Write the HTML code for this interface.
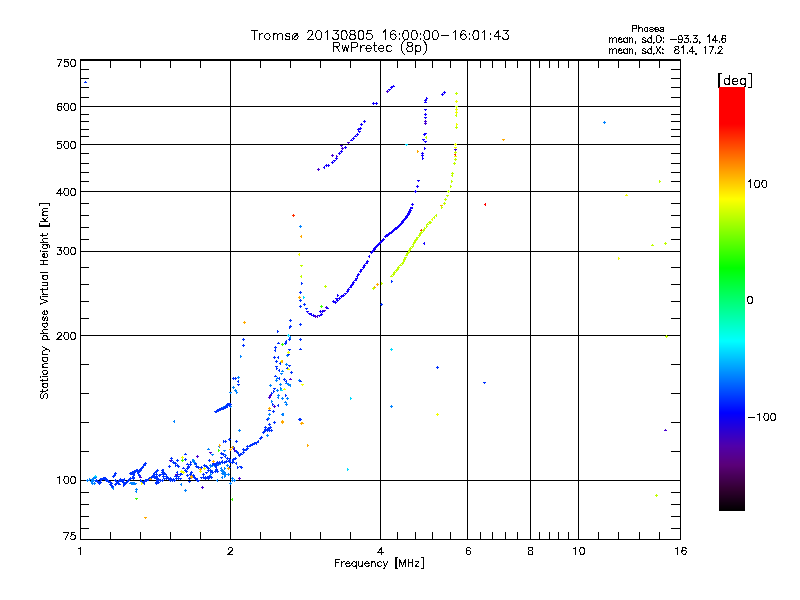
<!DOCTYPE html>
<html><head><meta charset="utf-8"><style>html,body{margin:0;padding:0;background:#fff;overflow:hidden}svg{display:block}</style></head>
<body><svg width="800" height="600" viewBox="0 0 800 600">
<rect width="800" height="600" fill="#fff"/>
<path d="M80 59.5H681 M80 60.5H681 M80 539.5H681 M80.5 59V540 M680.5 59V540 M80 480.5H681 M80 335.5H681 M80 251.5H681 M80 191.5H681 M80 144.5H681 M80 106.5H681 M230.5 59V540 M380.5 59V540 M467.5 59V540 M530.5 59V540 M578.5 59V540 M81 528.5H89 M671 528.5H680 M81 516.5H89 M671 516.5H680 M81 504.5H89 M671 504.5H680 M81 492.5H89 M671 492.5H680 M81 451.5H89 M671 451.5H680 M81 422.5H89 M671 422.5H680 M81 393.5H89 M671 393.5H680 M81 364.5H89 M671 364.5H680 M81 318.5H89 M671 318.5H680 M81 301.5H89 M671 301.5H680 M81 284.5H89 M671 284.5H680 M81 267.5H89 M671 267.5H680 M81 239.5H89 M671 239.5H680 M81 227.5H89 M671 227.5H680 M81 215.5H89 M671 215.5H680 M81 203.5H89 M671 203.5H680 M81 181.5H89 M671 181.5H680 M81 172.5H89 M671 172.5H680 M81 163.5H89 M671 163.5H680 M81 153.5H89 M671 153.5H680 M81 136.5H89 M671 136.5H680 M81 129.5H89 M671 129.5H680 M81 121.5H89 M671 121.5H680 M81 114.5H89 M671 114.5H680 M81 97.5H89 M671 97.5H680 M81 87.5H89 M671 87.5H680 M81 78.5H89 M671 78.5H680 M81 69.5H89 M671 69.5H680 M110.5 532V539 M110.5 61V68 M140.5 532V539 M140.5 61V68 M170.5 532V539 M170.5 61V68 M200.5 532V539 M200.5 61V68 M260.5 532V539 M260.5 61V68 M290.5 532V539 M290.5 61V68 M320.5 532V539 M320.5 61V68 M350.5 532V539 M350.5 61V68 M397.5 532V539 M397.5 61V68 M415.5 532V539 M415.5 61V68 M432.5 532V539 M432.5 61V68 M450.5 532V539 M450.5 61V68 M480.5 532V539 M480.5 61V68 M492.5 532V539 M492.5 61V68 M505.5 532V539 M505.5 61V68 M517.5 532V539 M517.5 61V68 M539.5 532V539 M539.5 61V68 M549.5 532V539 M549.5 61V68 M558.5 532V539 M558.5 61V68 M568.5 532V539 M568.5 61V68 M598.5 532V539 M598.5 61V68 M618.5 532V539 M618.5 61V68 M639.5 532V539 M639.5 61V68 M659.5 532V539 M659.5 61V68" stroke="#000" stroke-width="1" fill="none" shape-rendering="crispEdges"/>
<g shape-rendering="crispEdges"><path fill="#0082ff" d="M86 480h3v1h-3zM87 479h1v3h-1zM89 479h2v1h-2zM89 478h1v3h-1zM90 479h3v1h-3zM91 479h1v2h-1zM92 478h3v1h-3zM93 477h1v3h-1zM94 477h3v1h-3zM95 476h1v3h-1zM90 481h3v1h-3zM91 480h1v3h-1zM92 480h3v1h-3zM93 479h1v3h-1zM91 483h3v1h-3zM92 482h1v3h-1zM93 483h3v1h-3zM94 482h1v3h-1zM111 487h3v1h-3zM112 486h1v3h-1zM112 488h2v1h-2zM113 487h1v3h-1zM129 483h3v1h-3zM130 482h1v2h-1zM130 483h3v1h-3zM131 482h1v3h-1zM131 483h3v1h-3zM132 482h1v3h-1zM133 483h2v1h-2zM133 482h1v3h-1zM133 483h3v1h-3zM134 482h1v3h-1zM134 483h3v1h-3zM135 483h1v2h-1zM135 489h3v1h-3zM136 488h1v2h-1zM135 491h2v1h-2zM136 490h1v3h-1zM173 421h2v1h-2zM174 420h1v3h-1zM238 430h3v1h-3zM239 429h1v3h-1zM218 446h2v1h-2zM219 445h1v3h-1zM207 449h3v1h-3zM208 448h1v2h-1zM211 454h3v1h-3zM212 454h1v2h-1zM223 450h3v1h-3zM224 450h1v2h-1zM192 460h3v1h-3zM193 459h1v3h-1zM209 465h2v1h-2zM210 464h1v3h-1zM225 455h2v1h-2zM225 454h1v3h-1zM226 465h3v1h-3zM227 464h1v3h-1zM224 468h2v1h-2zM224 467h1v3h-1zM220 470h3v1h-3zM221 469h1v3h-1zM221 473h3v1h-3zM222 472h1v3h-1zM224 476h2v1h-2zM224 475h1v3h-1zM221 477h2v1h-2zM222 476h1v3h-1zM210 474h2v1h-2zM210 473h1v3h-1zM216 480h2v1h-2zM217 479h1v3h-1zM231 478h3v1h-3zM232 477h1v3h-1zM180 484h2v1h-2zM181 483h1v3h-1zM184 490h3v1h-3zM185 489h1v3h-1zM211 471h2v1h-2zM212 470h1v3h-1zM221 477h2v1h-2zM222 476h1v3h-1zM223 472h3v1h-3zM224 471h1v3h-1zM227 474h3v1h-3zM228 473h1v3h-1zM229 483h3v1h-3zM230 482h1v3h-1zM231 480h3v1h-3zM232 479h1v3h-1zM233 480h3v1h-3zM234 479h1v3h-1zM192 460h2v1h-2zM192 459h1v3h-1zM193 462h3v1h-3zM194 461h1v3h-1zM194 464h3v1h-3zM195 463h1v2h-1zM220 468h2v1h-2zM221 467h1v3h-1zM222 470h2v1h-2zM222 469h1v3h-1zM223 472h3v1h-3zM224 471h1v3h-1zM224 474h3v1h-3zM225 473h1v3h-1zM237 377h3v1h-3zM238 376h1v3h-1zM232 387h3v1h-3zM233 386h1v3h-1zM234 390h2v1h-2zM235 389h1v3h-1zM236 392h2v1h-2zM236 391h1v3h-1zM229 392h3v1h-3zM230 392h1v2h-1zM235 391h2v1h-2zM236 390h1v3h-1zM214 411h3v1h-3zM215 411h1v2h-1zM216 410h3v1h-3zM217 409h1v3h-1zM218 409h3v1h-3zM219 408h1v3h-1zM220 408h3v1h-3zM221 407h1v3h-1zM222 407h3v1h-3zM223 406h1v3h-1zM224 406h3v1h-3zM225 405h1v2h-1zM227 405h2v1h-2zM227 404h1v3h-1zM228 405h3v1h-3zM229 404h1v3h-1zM230 406h2v1h-2zM230 405h1v3h-1zM210 466h2v1h-2zM210 465h1v3h-1zM211 465h3v1h-3zM212 464h1v3h-1zM213 465h3v1h-3zM214 464h1v3h-1zM215 464h3v1h-3zM216 463h1v3h-1zM217 464h3v1h-3zM218 463h1v3h-1zM219 463h2v1h-2zM220 462h1v3h-1zM220 470h3v1h-3zM221 469h1v3h-1zM222 472h3v1h-3zM223 471h1v3h-1zM223 474h3v1h-3zM224 474h1v2h-1zM240 356h2v1h-2zM240 355h1v3h-1zM240 454h3v1h-3zM241 453h1v2h-1zM266 435h3v1h-3zM267 434h1v3h-1zM285 364h3v1h-3zM286 363h1v3h-1zM281 371h3v1h-3zM282 370h1v2h-1zM280 373h3v1h-3zM281 373h1v2h-1zM276 378h3v1h-3zM277 377h1v2h-1zM275 380h3v1h-3zM276 379h1v3h-1zM285 383h3v1h-3zM286 382h1v2h-1zM287 384h3v1h-3zM288 383h1v3h-1zM289 385h2v1h-2zM290 384h1v3h-1zM279 384h3v1h-3zM280 383h1v3h-1zM280 388h2v1h-2zM280 387h1v3h-1zM269 385h3v1h-3zM270 384h1v3h-1zM276 390h3v1h-3zM277 389h1v3h-1zM277 395h3v1h-3zM278 394h1v3h-1zM277 397h2v1h-2zM278 396h1v3h-1zM281 398h3v1h-3zM282 397h1v3h-1zM286 398h3v1h-3zM287 397h1v3h-1zM271 401h2v1h-2zM271 400h1v3h-1zM284 402h3v1h-3zM285 401h1v2h-1zM285 404h3v1h-3zM286 403h1v3h-1zM268 414h3v1h-3zM269 413h1v3h-1zM267 418h3v1h-3zM268 417h1v3h-1zM281 414h3v1h-3zM282 413h1v3h-1zM298 380h3v1h-3zM299 379h1v3h-1zM282 414h2v1h-2zM283 413h1v3h-1zM289 337h2v1h-2zM290 336h1v3h-1zM286 355h3v1h-3zM287 355h1v2h-1zM299 226h3v1h-3zM300 225h1v3h-1zM603 122h3v1h-3zM604 121h1v3h-1zM390 406h3v1h-3zM391 405h1v3h-1z"/><path fill="#00dcff" d="M94 476h3v1h-3zM95 475h1v2h-1zM280 390h3v1h-3zM281 389h1v2h-1zM287 335h3v1h-3zM288 334h1v3h-1zM303 297h2v1h-2zM303 296h1v3h-1zM405 144h3v1h-3zM406 144h1v2h-1zM390 349h3v1h-3zM391 348h1v3h-1zM350 398h2v1h-2zM350 397h1v3h-1zM347 469h2v1h-2zM347 468h1v3h-1z"/><path fill="#0032ff" d="M95 481h3v1h-3zM96 480h1v2h-1zM96 481h3v1h-3zM97 480h1v3h-1zM98 482h2v1h-2zM98 481h1v3h-1zM98 482h3v1h-3zM99 481h1v3h-1zM99 482h3v1h-3zM100 481h1v3h-1zM95 480h3v1h-3zM96 479h1v3h-1zM96 481h3v1h-3zM97 480h1v3h-1zM98 482h2v1h-2zM98 481h1v3h-1zM98 483h3v1h-3zM99 482h1v3h-1zM99 479h2v1h-2zM100 478h1v3h-1zM100 479h3v1h-3zM101 478h1v3h-1zM101 479h3v1h-3zM102 478h1v2h-1zM102 478h3v1h-3zM103 477h1v3h-1zM103 478h3v1h-3zM104 477h1v3h-1zM104 478h3v1h-3zM105 477h1v2h-1zM105 479h2v1h-2zM105 478h1v3h-1zM105 480h3v1h-3zM106 479h1v3h-1zM106 480h3v1h-3zM107 479h1v2h-1zM107 481h3v1h-3zM108 480h1v3h-1zM108 482h3v1h-3zM109 481h1v2h-1zM109 482h3v1h-3zM110 481h1v3h-1zM110 483h3v1h-3zM111 483h1v2h-1zM109 484h3v1h-3zM110 483h1v3h-1zM110 485h3v1h-3zM111 484h1v3h-1zM111 486h3v1h-3zM112 485h1v3h-1zM112 476h3v1h-3zM113 475h1v3h-1zM113 475h3v1h-3zM114 474h1v2h-1zM114 474h2v1h-2zM114 473h1v3h-1zM114 473h3v1h-3zM115 472h1v3h-1zM114 480h3v1h-3zM115 479h1v2h-1zM115 481h3v1h-3zM116 480h1v3h-1zM116 482h3v1h-3zM117 481h1v2h-1zM117 483h3v1h-3zM118 482h1v3h-1zM118 484h3v1h-3zM119 483h1v2h-1zM114 484h3v1h-3zM115 483h1v3h-1zM115 483h3v1h-3zM116 482h1v3h-1zM116 482h3v1h-3zM117 481h1v2h-1zM117 481h3v1h-3zM118 480h1v3h-1zM118 480h3v1h-3zM119 479h1v3h-1zM119 481h3v1h-3zM120 480h1v2h-1zM120 480h2v1h-2zM121 479h1v3h-1zM121 480h3v1h-3zM122 479h1v3h-1zM122 480h3v1h-3zM123 479h1v2h-1zM123 479h2v1h-2zM124 478h1v3h-1zM119 479h3v1h-3zM120 478h1v3h-1zM120 480h2v1h-2zM121 479h1v3h-1zM121 481h2v1h-2zM122 480h1v3h-1zM122 482h3v1h-3zM123 481h1v3h-1zM123 485h2v1h-2zM123 484h1v3h-1zM123 484h3v1h-3zM124 483h1v3h-1zM125 483h2v1h-2zM125 482h1v3h-1zM125 482h3v1h-3zM126 481h1v3h-1zM127 481h2v1h-2zM127 480h1v3h-1zM127 480h3v1h-3zM128 479h1v3h-1zM129 479h2v1h-2zM129 478h1v3h-1zM129 478h3v1h-3zM130 477h1v3h-1zM129 473h2v1h-2zM130 472h1v3h-1zM130 473h3v1h-3zM131 472h1v3h-1zM132 472h2v1h-2zM132 471h1v3h-1zM132 472h3v1h-3zM133 471h1v3h-1zM133 471h3v1h-3zM134 470h1v2h-1zM134 471h3v1h-3zM135 470h1v3h-1zM135 470h3v1h-3zM136 469h1v3h-1zM136 470h3v1h-3zM137 469h1v2h-1zM132 472h3v1h-3zM133 471h1v3h-1zM132 473h3v1h-3zM133 473h1v2h-1zM132 474h3v1h-3zM133 473h1v2h-1zM133 475h2v1h-2zM133 474h1v3h-1zM132 476h2v1h-2zM133 475h1v3h-1zM132 477h3v1h-3zM133 476h1v3h-1zM132 478h3v1h-3zM133 477h1v3h-1zM137 471h2v1h-2zM137 470h1v3h-1zM137 472h3v1h-3zM138 471h1v3h-1zM137 473h2v1h-2zM138 472h1v3h-1zM138 474h2v1h-2zM138 473h1v3h-1zM138 475h3v1h-3zM139 474h1v3h-1zM138 471h3v1h-3zM139 471h1v2h-1zM139 470h3v1h-3zM140 470h1v2h-1zM139 469h3v1h-3zM140 468h1v2h-1zM140 468h2v1h-2zM141 467h1v3h-1zM141 467h3v1h-3zM142 466h1v3h-1zM142 466h2v1h-2zM143 465h1v3h-1zM143 465h3v1h-3zM144 464h1v2h-1zM143 464h3v1h-3zM144 463h1v3h-1zM145 463h2v1h-2zM145 462h1v3h-1zM140 480h2v1h-2zM140 479h1v3h-1zM140 481h3v1h-3zM141 481h1v2h-1zM141 482h3v1h-3zM142 481h1v3h-1zM142 482h2v1h-2zM143 481h1v3h-1zM143 483h2v1h-2zM144 482h1v3h-1zM141 482h3v1h-3zM142 481h1v3h-1zM142 482h2v1h-2zM143 481h1v3h-1zM143 481h3v1h-3zM144 480h1v2h-1zM144 480h2v1h-2zM145 479h1v3h-1zM145 480h3v1h-3zM146 479h1v3h-1zM146 480h3v1h-3zM147 479h1v2h-1zM147 479h2v1h-2zM148 478h1v3h-1zM148 478h3v1h-3zM149 477h1v3h-1zM150 478h2v1h-2zM150 477h1v3h-1zM150 477h3v1h-3zM151 476h1v3h-1zM152 476h2v1h-2zM152 475h1v3h-1zM152 475h3v1h-3zM153 474h1v3h-1zM154 474h2v1h-2zM154 473h1v3h-1zM153 473h2v1h-2zM154 472h1v3h-1zM154 472h3v1h-3zM155 471h1v2h-1zM155 471h2v1h-2zM156 470h1v3h-1zM156 470h3v1h-3zM157 469h1v3h-1zM155 483h3v1h-3zM156 482h1v3h-1zM155 482h3v1h-3zM156 481h1v3h-1zM156 481h3v1h-3zM157 481h1v2h-1zM157 480h3v1h-3zM158 480h1v2h-1zM157 479h3v1h-3zM158 478h1v2h-1zM158 475h3v1h-3zM159 475h1v2h-1zM84 82h3v1h-3zM85 81h1v2h-1zM223 441h2v1h-2zM223 440h1v3h-1zM224 441h3v1h-3zM225 440h1v3h-1zM228 439h3v1h-3zM229 438h1v3h-1zM235 441h3v1h-3zM236 440h1v3h-1zM233 447h2v1h-2zM233 446h1v3h-1zM236 452h2v1h-2zM237 451h1v3h-1zM238 455h3v1h-3zM239 454h1v3h-1zM184 454h3v1h-3zM185 453h1v2h-1zM184 459h3v1h-3zM185 458h1v3h-1zM170 458h3v1h-3zM171 457h1v3h-1zM172 462h3v1h-3zM173 461h1v3h-1zM176 460h3v1h-3zM177 459h1v3h-1zM175 465h2v1h-2zM175 464h1v3h-1zM178 466h2v1h-2zM178 465h1v3h-1zM168 466h3v1h-3zM169 465h1v3h-1zM194 463h3v1h-3zM195 463h1v2h-1zM195 466h3v1h-3zM196 465h1v3h-1zM197 467h3v1h-3zM198 466h1v3h-1zM200 467h3v1h-3zM201 466h1v3h-1zM203 465h3v1h-3zM204 464h1v3h-1zM208 460h3v1h-3zM209 459h1v3h-1zM212 463h3v1h-3zM213 462h1v3h-1zM206 467h3v1h-3zM207 467h1v2h-1zM207 470h3v1h-3zM208 469h1v3h-1zM210 472h3v1h-3zM211 471h1v2h-1zM215 465h2v1h-2zM215 464h1v3h-1zM214 471h3v1h-3zM215 470h1v3h-1zM216 462h3v1h-3zM217 461h1v2h-1zM218 462h2v1h-2zM219 461h1v3h-1zM221 461h2v1h-2zM222 460h1v3h-1zM220 457h3v1h-3zM221 457h1v2h-1zM226 458h3v1h-3zM227 457h1v3h-1zM228 461h3v1h-3zM229 460h1v3h-1zM229 467h2v1h-2zM229 466h1v3h-1zM234 458h3v1h-3zM235 457h1v3h-1zM232 462h3v1h-3zM233 461h1v2h-1zM235 463h2v1h-2zM236 462h1v3h-1zM182 468h3v1h-3zM183 467h1v2h-1zM186 464h3v1h-3zM187 463h1v2h-1zM190 462h2v1h-2zM190 461h1v3h-1zM187 467h3v1h-3zM188 466h1v3h-1zM184 470h3v1h-3zM185 469h1v2h-1zM180 474h3v1h-3zM181 473h1v2h-1zM186 475h3v1h-3zM187 474h1v3h-1zM190 472h3v1h-3zM191 471h1v3h-1zM192 475h3v1h-3zM193 474h1v3h-1zM194 478h2v1h-2zM195 477h1v3h-1zM162 470h2v1h-2zM163 469h1v3h-1zM164 474h3v1h-3zM165 473h1v2h-1zM166 477h3v1h-3zM167 476h1v3h-1zM169 478h3v1h-3zM170 477h1v3h-1zM172 480h2v1h-2zM172 479h1v3h-1zM175 478h3v1h-3zM176 477h1v3h-1zM177 476h3v1h-3zM178 476h1v2h-1zM179 478h3v1h-3zM180 478h1v2h-1zM159 474h3v1h-3zM160 474h1v2h-1zM200 477h3v1h-3zM201 477h1v2h-1zM202 474h3v1h-3zM203 473h1v3h-1zM204 478h3v1h-3zM205 477h1v3h-1zM208 476h3v1h-3zM209 475h1v3h-1zM212 472h2v1h-2zM212 471h1v3h-1zM161 480h3v1h-3zM162 479h1v3h-1zM163 473h3v1h-3zM164 472h1v3h-1zM165 476h3v1h-3zM166 475h1v3h-1zM167 478h3v1h-3zM168 477h1v3h-1zM169 480h3v1h-3zM170 479h1v3h-1zM172 479h3v1h-3zM173 478h1v3h-1zM174 476h3v1h-3zM175 475h1v2h-1zM176 472h2v1h-2zM177 471h1v3h-1zM177 478h3v1h-3zM178 477h1v3h-1zM179 474h3v1h-3zM180 473h1v3h-1zM185 471h3v1h-3zM186 470h1v3h-1zM188 478h3v1h-3zM189 477h1v3h-1zM188 481h3v1h-3zM189 481h1v2h-1zM192 475h3v1h-3zM193 474h1v3h-1zM196 480h3v1h-3zM197 479h1v3h-1zM207 478h3v1h-3zM208 477h1v3h-1zM205 472h3v1h-3zM206 472h1v2h-1zM217 471h2v1h-2zM217 470h1v3h-1zM152 476h2v1h-2zM152 475h1v3h-1zM153 477h3v1h-3zM154 476h1v3h-1zM155 478h3v1h-3zM156 478h1v2h-1zM157 479h3v1h-3zM158 478h1v2h-1zM159 480h3v1h-3zM160 479h1v3h-1zM154 472h3v1h-3zM155 471h1v2h-1zM155 474h3v1h-3zM156 473h1v3h-1zM155 476h3v1h-3zM156 475h1v3h-1zM156 478h3v1h-3zM157 477h1v3h-1zM156 480h3v1h-3zM157 479h1v3h-1zM157 482h3v1h-3zM158 481h1v3h-1zM161 470h3v1h-3zM162 469h1v3h-1zM161 472h3v1h-3zM162 471h1v3h-1zM162 474h3v1h-3zM163 473h1v3h-1zM162 476h3v1h-3zM163 475h1v3h-1zM163 478h3v1h-3zM164 478h1v2h-1zM166 478h2v1h-2zM166 477h1v3h-1zM167 478h3v1h-3zM168 477h1v3h-1zM169 479h3v1h-3zM170 478h1v3h-1zM172 480h2v1h-2zM172 479h1v3h-1zM173 480h3v1h-3zM174 480h1v2h-1zM170 460h3v1h-3zM171 459h1v3h-1zM172 462h3v1h-3zM173 461h1v3h-1zM174 463h3v1h-3zM175 462h1v3h-1zM176 465h3v1h-3zM177 464h1v3h-1zM176 474h3v1h-3zM177 473h1v3h-1zM177 476h3v1h-3zM178 476h1v2h-1zM182 472h3v1h-3zM183 471h1v3h-1zM184 470h3v1h-3zM185 469h1v2h-1zM186 468h3v1h-3zM187 467h1v3h-1zM187 466h3v1h-3zM188 465h1v3h-1zM189 464h3v1h-3zM190 464h1v2h-1zM189 474h3v1h-3zM190 473h1v3h-1zM192 476h2v1h-2zM192 475h1v3h-1zM193 477h3v1h-3zM194 476h1v3h-1zM195 478h3v1h-3zM196 478h1v2h-1zM197 480h3v1h-3zM198 480h1v2h-1zM203 477h2v1h-2zM203 476h1v3h-1zM204 477h3v1h-3zM205 476h1v3h-1zM206 477h3v1h-3zM207 476h1v3h-1zM208 477h3v1h-3zM209 477h1v2h-1zM211 477h2v1h-2zM211 476h1v3h-1zM205 466h3v1h-3zM206 465h1v3h-1zM208 468h2v1h-2zM208 467h1v3h-1zM209 470h3v1h-3zM210 469h1v3h-1zM215 465h3v1h-3zM216 464h1v2h-1zM215 467h2v1h-2zM216 466h1v3h-1zM215 469h3v1h-3zM216 468h1v3h-1zM237 467h2v1h-2zM237 466h1v3h-1zM239 466h3v1h-3zM240 466h1v2h-1zM232 378h3v1h-3zM233 377h1v3h-1zM234 378h3v1h-3zM235 377h1v3h-1zM237 381h2v1h-2zM238 380h1v3h-1zM237 384h3v1h-3zM238 384h1v2h-1zM214 411h3v1h-3zM215 411h1v2h-1zM215 411h2v1h-2zM216 410h1v3h-1zM216 410h3v1h-3zM217 409h1v3h-1zM218 410h2v1h-2zM218 409h1v3h-1zM218 409h3v1h-3zM219 408h1v3h-1zM219 409h3v1h-3zM220 408h1v3h-1zM220 408h3v1h-3zM221 407h1v3h-1zM221 408h3v1h-3zM222 408h1v2h-1zM222 408h3v1h-3zM223 407h1v3h-1zM223 407h3v1h-3zM224 406h1v3h-1zM225 407h2v1h-2zM225 406h1v3h-1zM225 406h3v1h-3zM226 405h1v3h-1zM226 406h2v1h-2zM227 405h1v3h-1zM227 405h3v1h-3zM228 404h1v2h-1zM228 405h3v1h-3zM229 404h1v3h-1zM226 404h3v1h-3zM227 403h1v3h-1zM227 404h3v1h-3zM228 403h1v3h-1zM228 404h2v1h-2zM229 403h1v3h-1zM229 404h3v1h-3zM230 403h1v3h-1zM235 451h3v1h-3zM236 450h1v3h-1zM237 453h2v1h-2zM238 452h1v3h-1zM239 454h3v1h-3zM240 453h1v3h-1zM220 453h3v1h-3zM221 452h1v3h-1zM222 454h3v1h-3zM223 453h1v3h-1zM224 456h2v1h-2zM225 455h1v3h-1zM226 458h3v1h-3zM227 457h1v3h-1zM229 459h2v1h-2zM229 458h1v3h-1zM232 459h3v1h-3zM233 458h1v3h-1zM231 462h3v1h-3zM232 461h1v3h-1zM212 464h2v1h-2zM212 463h1v3h-1zM213 464h3v1h-3zM214 464h1v2h-1zM215 463h3v1h-3zM216 462h1v3h-1zM217 463h3v1h-3zM218 462h1v3h-1zM219 462h3v1h-3zM220 462h1v2h-1zM222 462h2v1h-2zM222 461h1v3h-1zM223 462h3v1h-3zM224 461h1v3h-1zM225 461h3v1h-3zM226 460h1v3h-1zM227 461h3v1h-3zM228 460h1v2h-1zM229 461h2v1h-2zM230 460h1v3h-1zM232 460h2v1h-2zM232 459h1v3h-1zM240 454h3v1h-3zM241 453h1v2h-1zM242 452h3v1h-3zM243 451h1v3h-1zM244 450h3v1h-3zM245 449h1v2h-1zM246 448h3v1h-3zM247 447h1v3h-1zM248 446h3v1h-3zM249 445h1v2h-1zM249 445h3v1h-3zM250 444h1v3h-1zM251 444h3v1h-3zM252 443h1v3h-1zM253 443h3v1h-3zM254 442h1v3h-1zM255 442h3v1h-3zM256 442h1v2h-1zM257 441h2v1h-2zM258 440h1v3h-1zM242 449h3v1h-3zM243 448h1v3h-1zM242 339h3v1h-3zM243 338h1v3h-1zM242 345h3v1h-3zM243 344h1v3h-1zM240 467h3v1h-3zM241 466h1v3h-1zM242 452h3v1h-3zM243 451h1v3h-1zM244 449h3v1h-3zM245 449h1v2h-1zM246 446h3v1h-3zM247 445h1v3h-1zM249 445h3v1h-3zM250 444h1v3h-1zM251 444h3v1h-3zM252 443h1v3h-1zM253 443h3v1h-3zM254 442h1v3h-1zM255 443h2v1h-2zM256 442h1v3h-1zM257 441h2v1h-2zM258 440h1v3h-1zM259 438h3v1h-3zM260 438h1v2h-1zM260 437h3v1h-3zM261 436h1v3h-1zM262 432h3v1h-3zM263 431h1v3h-1zM263 431h3v1h-3zM264 430h1v3h-1zM264 429h3v1h-3zM265 429h1v2h-1zM266 430h2v1h-2zM267 429h1v3h-1zM268 430h3v1h-3zM269 429h1v3h-1zM267 428h3v1h-3zM268 427h1v3h-1zM264 427h3v1h-3zM265 426h1v3h-1zM268 424h3v1h-3zM269 423h1v3h-1zM269 427h3v1h-3zM270 426h1v3h-1zM270 430h3v1h-3zM271 429h1v3h-1zM273 422h3v1h-3zM274 421h1v3h-1zM275 361h3v1h-3zM276 360h1v3h-1zM279 363h2v1h-2zM280 362h1v3h-1zM288 365h3v1h-3zM289 365h1v2h-1zM286 368h3v1h-3zM287 367h1v3h-1zM290 372h3v1h-3zM291 371h1v3h-1zM275 366h3v1h-3zM276 366h1v2h-1zM276 368h2v1h-2zM276 367h1v3h-1zM278 370h2v1h-2zM279 369h1v3h-1zM274 376h3v1h-3zM275 375h1v2h-1zM278 378h2v1h-2zM279 377h1v3h-1zM283 379h3v1h-3zM284 378h1v3h-1zM285 381h2v1h-2zM286 380h1v3h-1zM273 388h3v1h-3zM274 388h1v2h-1zM273 391h2v1h-2zM273 390h1v3h-1zM271 393h2v1h-2zM271 392h1v3h-1zM285 395h2v1h-2zM285 394h1v3h-1zM272 404h2v1h-2zM272 403h1v3h-1zM277 405h2v1h-2zM278 404h1v3h-1zM268 410h3v1h-3zM269 409h1v2h-1zM272 411h3v1h-3zM273 410h1v3h-1zM266 419h3v1h-3zM267 418h1v3h-1zM298 419h3v1h-3zM299 418h1v3h-1zM299 381h3v1h-3zM300 380h1v2h-1zM299 419h3v1h-3zM300 418h1v3h-1zM277 331h2v1h-2zM277 330h1v3h-1zM289 320h3v1h-3zM290 319h1v3h-1zM289 326h3v1h-3zM290 325h1v3h-1zM289 327h2v1h-2zM289 326h1v3h-1zM299 306h3v1h-3zM300 305h1v3h-1zM299 324h3v1h-3zM300 323h1v3h-1zM288 339h3v1h-3zM289 338h1v3h-1zM285 341h2v1h-2zM286 340h1v3h-1zM284 343h3v1h-3zM285 342h1v3h-1zM277 343h3v1h-3zM278 342h1v2h-1zM274 347h3v1h-3zM275 346h1v3h-1zM274 350h2v1h-2zM275 349h1v3h-1zM288 349h3v1h-3zM289 349h1v2h-1zM287 354h3v1h-3zM288 354h1v2h-1zM273 357h3v1h-3zM274 356h1v3h-1zM277 357h2v1h-2zM278 356h1v3h-1zM299 339h3v1h-3zM300 338h1v3h-1zM299 349h3v1h-3zM300 348h1v2h-1zM301 283h2v1h-2zM301 282h1v3h-1zM299 292h3v1h-3zM300 291h1v3h-1zM299 300h3v1h-3zM300 299h1v3h-1zM303 304h3v1h-3zM304 303h1v3h-1zM299 306h3v1h-3zM300 305h1v3h-1zM305 308h3v1h-3zM306 308h1v2h-1zM391 281h2v1h-2zM391 280h1v3h-1zM436 367h3v1h-3zM437 366h1v3h-1zM483 382h3v1h-3zM484 382h1v2h-1zM380 304h3v1h-3zM381 303h1v3h-1z"/><path fill="#4600d2" d="M139 477h3v1h-3zM140 476h1v2h-1zM209 452h3v1h-3zM210 452h1v2h-1zM233 449h2v1h-2zM234 448h1v3h-1zM169 460h3v1h-3zM170 460h1v2h-1zM196 456h3v1h-3zM197 455h1v3h-1zM175 474h3v1h-3zM176 474h1v2h-1zM201 487h3v1h-3zM202 486h1v3h-1zM238 478h3v1h-3zM239 477h1v3h-1zM234 450h2v1h-2zM234 449h1v3h-1zM289 379h3v1h-3zM290 378h1v2h-1zM269 395h3v1h-3zM270 394h1v3h-1zM268 397h3v1h-3zM269 396h1v3h-1zM273 406h3v1h-3zM274 405h1v3h-1zM314 316h3v1h-3zM315 315h1v3h-1zM316 316h2v1h-2zM317 315h1v3h-1zM323 310h3v1h-3zM324 310h1v2h-1zM325 307h3v1h-3zM326 306h1v3h-1zM454 149h3v1h-3zM455 148h1v3h-1zM424 121h3v1h-3zM425 120h1v3h-1zM424 123h3v1h-3zM425 122h1v3h-1zM317 169h3v1h-3zM318 168h1v3h-1zM331 155h3v1h-3zM332 154h1v3h-1zM336 156h2v1h-2zM336 155h1v3h-1zM341 148h3v1h-3zM342 147h1v3h-1zM340 145h3v1h-3zM341 145h1v2h-1zM347 142h3v1h-3zM348 142h1v2h-1zM386 91h3v1h-3zM387 90h1v3h-1zM664 430h3v1h-3zM665 429h1v2h-1z"/><path fill="#f0ff00" d="M141 483h2v1h-2zM141 482h1v3h-1zM181 457h3v1h-3zM182 456h1v3h-1zM199 471h3v1h-3zM200 470h1v3h-1zM203 468h3v1h-3zM204 467h1v3h-1zM182 472h3v1h-3zM183 471h1v3h-1zM180 471h3v1h-3zM181 470h1v3h-1zM199 471h3v1h-3zM200 470h1v3h-1zM280 361h3v1h-3zM281 360h1v3h-1zM287 369h3v1h-3zM288 368h1v2h-1zM283 389h3v1h-3zM284 388h1v2h-1zM301 384h3v1h-3zM302 384h1v2h-1zM287 352h3v1h-3zM288 351h1v3h-1zM298 254h2v1h-2zM299 253h1v3h-1zM431 219h2v1h-2zM432 218h1v3h-1zM454 156h3v1h-3zM455 155h1v2h-1zM454 147h3v1h-3zM455 147h1v2h-1zM454 144h3v1h-3zM455 143h1v3h-1zM455 101h3v1h-3zM456 100h1v3h-1zM455 109h3v1h-3zM456 108h1v3h-1zM455 112h3v1h-3zM456 111h1v3h-1zM456 124h2v1h-2zM456 123h1v3h-1zM625 195h3v1h-3zM626 194h1v2h-1zM618 258h2v1h-2zM618 257h1v3h-1zM436 414h3v1h-3zM437 413h1v3h-1z"/><path fill="#ffaa00" d="M149 479h3v1h-3zM150 478h1v2h-1zM144 517h3v1h-3zM145 517h1v2h-1zM219 445h2v1h-2zM219 444h1v3h-1zM229 449h3v1h-3zM230 448h1v3h-1zM231 447h3v1h-3zM232 446h1v3h-1zM199 469h3v1h-3zM200 468h1v3h-1zM212 461h3v1h-3zM213 460h1v3h-1zM227 468h3v1h-3zM228 467h1v3h-1zM190 477h3v1h-3zM191 476h1v3h-1zM190 476h3v1h-3zM191 475h1v2h-1zM243 322h3v1h-3zM244 321h1v3h-1zM281 421h3v1h-3zM282 420h1v3h-1zM300 423h3v1h-3zM301 422h1v3h-1zM307 445h2v1h-2zM307 444h1v3h-1zM301 423h3v1h-3zM302 422h1v2h-1zM268 408h3v1h-3zM269 407h1v3h-1zM281 422h3v1h-3zM282 421h1v3h-1zM281 361h2v1h-2zM282 360h1v3h-1zM300 236h2v1h-2zM301 235h1v3h-1zM298 297h3v1h-3zM299 296h1v3h-1zM426 226h2v1h-2zM426 225h1v3h-1zM373 287h3v1h-3zM374 286h1v2h-1zM376 284h3v1h-3zM377 283h1v3h-1zM440 205h3v1h-3zM441 205h1v2h-1zM417 151h2v1h-2zM417 150h1v3h-1zM502 139h3v1h-3zM503 139h1v2h-1z"/><path fill="#40ff00" d="M135 498h3v1h-3zM136 498h1v2h-1zM218 450h2v1h-2zM218 449h1v3h-1zM181 460h3v1h-3zM182 459h1v3h-1zM231 499h2v1h-2zM232 498h1v3h-1zM281 344h3v1h-3zM282 343h1v3h-1zM320 306h3v1h-3zM321 305h1v3h-1z"/><path fill="#ff3000" d="M292 215h3v1h-3zM293 214h1v3h-1zM409 209h2v1h-2zM410 208h1v3h-1zM420 230h3v1h-3zM421 229h1v3h-1zM454 154h2v1h-2zM455 153h1v3h-1z"/><path fill="#c0ff00" d="M300 265h3v1h-3zM301 265h1v2h-1zM300 276h2v1h-2zM301 275h1v3h-1zM324 286h3v1h-3zM325 285h1v3h-1zM403 261h2v1h-2zM403 260h1v3h-1zM403 259h3v1h-3zM404 258h1v3h-1zM404 257h3v1h-3zM405 257h1v2h-1zM405 255h3v1h-3zM406 254h1v2h-1zM406 253h3v1h-3zM407 252h1v3h-1zM408 252h2v1h-2zM408 251h1v3h-1zM408 250h3v1h-3zM409 249h1v3h-1zM409 248h3v1h-3zM410 247h1v3h-1zM411 246h3v1h-3zM412 246h1v2h-1zM412 244h2v1h-2zM413 243h1v3h-1zM413 242h3v1h-3zM414 241h1v3h-1zM414 240h3v1h-3zM415 239h1v3h-1zM415 239h3v1h-3zM416 238h1v3h-1zM416 237h3v1h-3zM417 237h1v2h-1zM418 235h3v1h-3zM419 234h1v3h-1zM419 233h3v1h-3zM420 232h1v3h-1zM420 232h3v1h-3zM421 231h1v3h-1zM422 230h3v1h-3zM423 229h1v3h-1zM424 228h2v1h-2zM424 227h1v3h-1zM426 226h2v1h-2zM426 225h1v3h-1zM426 224h3v1h-3zM427 223h1v2h-1zM428 222h3v1h-3zM429 221h1v3h-1zM390 276h3v1h-3zM391 275h1v2h-1zM392 274h3v1h-3zM393 273h1v3h-1zM393 272h3v1h-3zM394 271h1v3h-1zM395 270h3v1h-3zM396 270h1v2h-1zM396 269h3v1h-3zM397 268h1v3h-1zM397 267h3v1h-3zM398 266h1v3h-1zM399 265h3v1h-3zM400 264h1v2h-1zM401 263h3v1h-3zM402 262h1v3h-1zM403 261h2v1h-2zM403 260h1v3h-1zM381 283h2v1h-2zM381 282h1v3h-1zM372 288h3v1h-3zM373 287h1v3h-1zM430 222h2v1h-2zM430 221h1v3h-1zM433 217h2v1h-2zM434 216h1v3h-1zM435 215h2v1h-2zM436 214h1v3h-1zM441 207h2v1h-2zM441 206h1v3h-1zM443 203h3v1h-3zM444 202h1v3h-1zM444 199h3v1h-3zM445 198h1v3h-1zM446 195h3v1h-3zM447 195h1v2h-1zM447 191h3v1h-3zM448 190h1v3h-1zM450 186h2v1h-2zM450 185h1v3h-1zM451 181h2v1h-2zM451 180h1v3h-1zM451 175h2v1h-2zM452 174h1v3h-1zM451 173h3v1h-3zM452 172h1v2h-1zM453 163h3v1h-3zM454 162h1v3h-1zM454 159h3v1h-3zM455 158h1v3h-1zM454 152h3v1h-3zM455 151h1v3h-1zM425 137h2v1h-2zM426 136h1v3h-1zM455 93h3v1h-3zM456 92h1v3h-1zM455 106h3v1h-3zM456 106h1v2h-1zM455 115h2v1h-2zM456 114h1v3h-1zM455 127h3v1h-3zM456 126h1v3h-1zM659 181h2v1h-2zM659 180h1v3h-1zM651 245h3v1h-3zM652 244h1v2h-1zM664 243h3v1h-3zM665 242h1v3h-1zM665 336h3v1h-3zM666 335h1v3h-1zM655 495h3v1h-3zM656 494h1v3h-1z"/><path fill="#1400ff" d="M306 311h3v1h-3zM307 311h1v2h-1zM308 313h3v1h-3zM309 313h1v2h-1zM310 314h2v1h-2zM311 313h1v3h-1zM312 315h3v1h-3zM313 314h1v3h-1zM318 315h3v1h-3zM319 315h1v2h-1zM320 314h3v1h-3zM321 313h1v3h-1zM319 311h3v1h-3zM320 310h1v3h-1zM321 311h3v1h-3zM322 310h1v3h-1zM326 308h3v1h-3zM327 307h1v2h-1zM332 301h3v1h-3zM333 300h1v3h-1zM334 302h3v1h-3zM335 301h1v3h-1zM337 295h2v1h-2zM337 294h1v3h-1zM335 298h3v1h-3zM336 298h1v2h-1zM336 300h3v1h-3zM337 299h1v3h-1zM338 298h3v1h-3zM339 297h1v3h-1zM340 296h3v1h-3zM341 295h1v3h-1zM342 295h3v1h-3zM343 294h1v3h-1zM344 293h3v1h-3zM345 293h1v2h-1zM344 293h3v1h-3zM345 293h1v2h-1zM346 291h3v1h-3zM347 290h1v3h-1zM347 289h3v1h-3zM348 288h1v3h-1zM349 287h3v1h-3zM350 286h1v2h-1zM350 285h3v1h-3zM351 284h1v3h-1zM352 284h2v1h-2zM352 283h1v3h-1zM352 282h3v1h-3zM353 281h1v3h-1zM354 280h3v1h-3zM355 279h1v2h-1zM355 278h3v1h-3zM356 278h1v2h-1zM356 276h2v1h-2zM357 275h1v3h-1zM357 274h3v1h-3zM358 273h1v3h-1zM370 252h3v1h-3zM371 251h1v3h-1zM371 251h3v1h-3zM372 250h1v3h-1zM372 250h3v1h-3zM373 249h1v2h-1zM373 249h3v1h-3zM374 248h1v3h-1zM373 248h3v1h-3zM374 248h1v2h-1zM374 247h3v1h-3zM375 246h1v3h-1zM375 246h3v1h-3zM376 245h1v3h-1zM375 246h3v1h-3zM376 245h1v3h-1zM376 245h3v1h-3zM377 245h1v2h-1zM377 244h3v1h-3zM378 244h1v2h-1zM378 243h3v1h-3zM379 242h1v3h-1zM379 242h3v1h-3zM380 241h1v3h-1zM380 241h3v1h-3zM381 241h1v2h-1zM381 240h3v1h-3zM382 240h1v2h-1zM382 239h3v1h-3zM383 238h1v3h-1zM384 236h3v1h-3zM385 235h1v3h-1zM385 235h3v1h-3zM386 234h1v2h-1zM386 235h3v1h-3zM387 234h1v3h-1zM387 234h3v1h-3zM388 233h1v3h-1zM388 233h3v1h-3zM389 233h1v2h-1zM389 232h3v1h-3zM390 232h1v2h-1zM390 232h3v1h-3zM391 231h1v3h-1zM391 231h3v1h-3zM392 230h1v3h-1zM391 231h3v1h-3zM392 230h1v3h-1zM392 230h3v1h-3zM393 229h1v2h-1zM393 229h3v1h-3zM394 228h1v3h-1zM394 228h3v1h-3zM395 227h1v3h-1zM395 228h3v1h-3zM396 227h1v3h-1zM397 227h2v1h-2zM397 226h1v3h-1zM397 226h3v1h-3zM398 225h1v3h-1zM399 225h2v1h-2zM399 224h1v3h-1zM399 224h3v1h-3zM400 223h1v3h-1zM399 224h3v1h-3zM400 223h1v3h-1zM401 223h2v1h-2zM401 222h1v3h-1zM401 222h3v1h-3zM402 221h1v3h-1zM401 221h3v1h-3zM402 220h1v3h-1zM402 220h3v1h-3zM403 219h1v3h-1zM403 219h3v1h-3zM404 218h1v3h-1zM404 218h3v1h-3zM405 217h1v2h-1zM404 218h3v1h-3zM405 217h1v2h-1zM405 217h3v1h-3zM406 216h1v3h-1zM405 216h3v1h-3zM406 216h1v2h-1zM406 215h3v1h-3zM407 214h1v3h-1zM407 214h3v1h-3zM408 213h1v3h-1zM407 213h3v1h-3zM408 212h1v3h-1zM408 212h3v1h-3zM409 211h1v3h-1zM408 212h3v1h-3zM409 211h1v3h-1zM408 211h3v1h-3zM409 210h1v3h-1zM410 210h2v1h-2zM410 209h1v3h-1zM409 209h2v1h-2zM410 208h1v3h-1zM410 208h3v1h-3zM411 207h1v2h-1zM410 207h3v1h-3zM411 207h1v2h-1zM411 204h3v1h-3zM412 203h1v3h-1zM359 271h3v1h-3zM360 270h1v3h-1zM360 269h3v1h-3zM361 269h1v2h-1zM362 267h3v1h-3zM363 266h1v3h-1zM363 265h3v1h-3zM364 264h1v3h-1zM363 265h3v1h-3zM364 264h1v3h-1zM365 263h3v1h-3zM366 262h1v2h-1zM366 261h3v1h-3zM367 260h1v3h-1zM368 256h2v1h-2zM369 255h1v3h-1zM423 243h2v1h-2zM424 242h1v3h-1zM424 141h3v1h-3zM425 141h1v2h-1zM424 148h2v1h-2zM424 147h1v3h-1zM421 153h3v1h-3zM422 152h1v3h-1zM421 155h3v1h-3zM422 154h1v3h-1zM422 158h2v1h-2zM422 157h1v3h-1zM417 180h3v1h-3zM418 180h1v2h-1zM416 186h3v1h-3zM417 185h1v3h-1zM414 191h3v1h-3zM415 190h1v3h-1zM441 94h3v1h-3zM442 93h1v3h-1zM443 92h3v1h-3zM444 91h1v3h-1zM426 98h2v1h-2zM426 97h1v3h-1zM424 100h3v1h-3zM425 99h1v3h-1zM424 102h3v1h-3zM425 101h1v2h-1zM424 109h3v1h-3zM425 109h1v2h-1zM424 114h3v1h-3zM425 113h1v3h-1zM424 117h3v1h-3zM425 117h1v2h-1zM423 134h3v1h-3zM424 133h1v3h-1zM424 133h3v1h-3zM425 133h1v2h-1zM422 139h3v1h-3zM423 139h1v2h-1zM323 167h2v1h-2zM324 166h1v3h-1zM325 165h2v1h-2zM326 164h1v3h-1zM327 165h3v1h-3zM328 164h1v3h-1zM331 162h3v1h-3zM332 161h1v3h-1zM333 160h3v1h-3zM334 160h1v2h-1zM335 158h3v1h-3zM336 157h1v3h-1zM338 153h3v1h-3zM339 152h1v3h-1zM340 151h3v1h-3zM341 150h1v3h-1zM344 147h3v1h-3zM345 146h1v3h-1zM350 140h3v1h-3zM351 139h1v2h-1zM352 138h3v1h-3zM353 137h1v3h-1zM354 136h3v1h-3zM355 135h1v2h-1zM356 134h3v1h-3zM357 133h1v3h-1zM358 131h3v1h-3zM359 131h1v2h-1zM357 129h3v1h-3zM358 128h1v3h-1zM359 128h3v1h-3zM360 127h1v3h-1zM360 124h3v1h-3zM361 123h1v3h-1zM363 121h3v1h-3zM364 120h1v3h-1zM388 89h3v1h-3zM389 89h1v2h-1zM390 87h3v1h-3zM391 86h1v3h-1zM392 86h3v1h-3zM393 85h1v2h-1zM372 103h3v1h-3zM373 102h1v3h-1zM375 103h3v1h-3zM376 102h1v3h-1z"/><path fill="#ff0000" d="M484 204h2v1h-2zM485 203h1v3h-1z"/></g>
<path d="M254.46 30.58 L254.46 39.50 M251.50 30.58 L257.42 30.58 M259.53 33.55 L259.53 39.50 M259.53 36.10 L259.95 34.83 L260.80 33.98 L261.64 33.55 L262.91 33.55 M266.72 33.55 L265.87 33.98 L265.03 34.83 L264.60 36.10 L264.60 36.95 L265.03 38.23 L265.87 39.08 L266.72 39.50 L267.99 39.50 L268.83 39.08 L269.68 38.23 L270.10 36.95 L270.10 36.10 L269.68 34.83 L268.83 33.98 L267.99 33.55 L266.72 33.55 M273.06 33.55 L273.06 39.50 M273.06 35.25 L274.33 33.98 L275.17 33.55 L276.44 33.55 L277.28 33.98 L277.71 35.25 L277.71 39.50 M277.71 35.25 L278.98 33.98 L279.82 33.55 L281.09 33.55 L281.93 33.98 L282.36 35.25 L282.36 39.50 M289.97 34.83 L289.54 33.98 L288.27 33.55 L287.01 33.55 L285.74 33.98 L285.32 34.83 L285.74 35.67 L286.58 36.10 L288.70 36.52 L289.54 36.95 L289.97 37.80 L289.97 38.23 L289.54 39.08 L288.27 39.50 L287.01 39.50 L285.74 39.08 L285.32 38.23 M294.62 33.55 L293.77 33.98 L292.92 34.83 L292.50 36.10 L292.50 36.95 L292.92 38.23 L293.77 39.08 L294.62 39.50 L295.88 39.50 L296.73 39.08 L297.57 38.23 L298.00 36.95 L298.00 36.10 L297.57 34.83 L296.73 33.98 L295.88 33.55 L294.62 33.55 M292.50 39.50 L298.00 33.12 M307.72 32.70 L307.72 32.27 L308.14 31.43 L308.56 31.00 L309.41 30.58 L311.10 30.58 L311.95 31.00 L312.37 31.43 L312.79 32.27 L312.79 33.12 L312.37 33.98 L311.52 35.25 L307.30 39.50 L313.21 39.50 M318.29 30.58 L317.02 31.00 L316.17 32.27 L315.75 34.40 L315.75 35.67 L316.17 37.80 L317.02 39.08 L318.29 39.50 L319.13 39.50 L320.40 39.08 L321.25 37.80 L321.67 35.67 L321.67 34.40 L321.25 32.27 L320.40 31.00 L319.13 30.58 L318.29 30.58 M325.47 32.27 L326.32 31.85 L327.59 30.58 L327.59 39.50 M333.50 30.58 L338.15 30.58 L335.62 33.98 L336.89 33.98 L337.73 34.40 L338.15 34.83 L338.58 36.10 L338.58 36.95 L338.15 38.23 L337.31 39.08 L336.04 39.50 L334.77 39.50 L333.50 39.08 L333.08 38.65 L332.66 37.80 M343.65 30.58 L342.38 31.00 L341.54 32.27 L341.11 34.40 L341.11 35.67 L341.54 37.80 L342.38 39.08 L343.65 39.50 L344.49 39.50 L345.76 39.08 L346.61 37.80 L347.03 35.67 L347.03 34.40 L346.61 32.27 L345.76 31.00 L344.49 30.58 L343.65 30.58 M351.68 30.58 L350.41 31.00 L349.99 31.85 L349.99 32.70 L350.41 33.55 L351.26 33.98 L352.95 34.40 L354.22 34.83 L355.06 35.67 L355.48 36.52 L355.48 37.80 L355.06 38.65 L354.64 39.08 L353.37 39.50 L351.68 39.50 L350.41 39.08 L349.99 38.65 L349.57 37.80 L349.57 36.52 L349.99 35.67 L350.83 34.83 L352.10 34.40 L353.79 33.98 L354.64 33.55 L355.06 32.70 L355.06 31.85 L354.64 31.00 L353.37 30.58 L351.68 30.58 M360.56 30.58 L359.29 31.00 L358.44 32.27 L358.02 34.40 L358.02 35.67 L358.44 37.80 L359.29 39.08 L360.56 39.50 L361.40 39.50 L362.67 39.08 L363.52 37.80 L363.94 35.67 L363.94 34.40 L363.52 32.27 L362.67 31.00 L361.40 30.58 L360.56 30.58 M371.55 30.58 L367.32 30.58 L366.90 34.40 L367.32 33.98 L368.59 33.55 L369.86 33.55 L371.12 33.98 L371.97 34.83 L372.39 36.10 L372.39 36.95 L371.97 38.23 L371.12 39.08 L369.86 39.50 L368.59 39.50 L367.32 39.08 L366.90 38.65 L366.47 37.80 M382.96 32.27 L383.81 31.85 L385.07 30.58 L385.07 39.50 M395.64 31.85 L395.22 31.00 L393.95 30.58 L393.10 30.58 L391.84 31.00 L390.99 32.27 L390.57 34.40 L390.57 36.52 L390.99 38.23 L391.84 39.08 L393.10 39.50 L393.53 39.50 L394.80 39.08 L395.64 38.23 L396.06 36.95 L396.06 36.52 L395.64 35.25 L394.80 34.40 L393.53 33.98 L393.10 33.98 L391.84 34.40 L390.99 35.25 L390.57 36.52 M399.44 33.55 L399.02 33.98 L399.44 34.40 L399.87 33.98 L399.44 33.55 M399.44 38.65 L399.02 39.08 L399.44 39.50 L399.87 39.08 L399.44 38.65 M405.36 30.58 L404.09 31.00 L403.25 32.27 L402.83 34.40 L402.83 35.67 L403.25 37.80 L404.09 39.08 L405.36 39.50 L406.21 39.50 L407.48 39.08 L408.32 37.80 L408.74 35.67 L408.74 34.40 L408.32 32.27 L407.48 31.00 L406.21 30.58 L405.36 30.58 M413.82 30.58 L412.55 31.00 L411.70 32.27 L411.28 34.40 L411.28 35.67 L411.70 37.80 L412.55 39.08 L413.82 39.50 L414.66 39.50 L415.93 39.08 L416.78 37.80 L417.20 35.67 L417.20 34.40 L416.78 32.27 L415.93 31.00 L414.66 30.58 L413.82 30.58 M420.58 33.55 L420.16 33.98 L420.58 34.40 L421.00 33.98 L420.58 33.55 M420.58 38.65 L420.16 39.08 L420.58 39.50 L421.00 39.08 L420.58 38.65 M426.50 30.58 L425.23 31.00 L424.38 32.27 L423.96 34.40 L423.96 35.67 L424.38 37.80 L425.23 39.08 L426.50 39.50 L427.34 39.50 L428.61 39.08 L429.46 37.80 L429.88 35.67 L429.88 34.40 L429.46 32.27 L428.61 31.00 L427.34 30.58 L426.50 30.58 M434.95 30.58 L433.68 31.00 L432.84 32.27 L432.42 34.40 L432.42 35.67 L432.84 37.80 L433.68 39.08 L434.95 39.50 L435.80 39.50 L437.07 39.08 L437.91 37.80 L438.33 35.67 L438.33 34.40 L437.91 32.27 L437.07 31.00 L435.80 30.58 L434.95 30.58 M441.29 35.67 L448.90 35.67 M453.13 32.27 L453.97 31.85 L455.24 30.58 L455.24 39.50 M465.81 31.85 L465.39 31.00 L464.12 30.58 L463.27 30.58 L462.00 31.00 L461.16 32.27 L460.74 34.40 L460.74 36.52 L461.16 38.23 L462.00 39.08 L463.27 39.50 L463.70 39.50 L464.96 39.08 L465.81 38.23 L466.23 36.95 L466.23 36.52 L465.81 35.25 L464.96 34.40 L463.70 33.98 L463.27 33.98 L462.00 34.40 L461.16 35.25 L460.74 36.52 M469.61 33.55 L469.19 33.98 L469.61 34.40 L470.04 33.98 L469.61 33.55 M469.61 38.65 L469.19 39.08 L469.61 39.50 L470.04 39.08 L469.61 38.65 M475.53 30.58 L474.26 31.00 L473.42 32.27 L472.99 34.40 L472.99 35.67 L473.42 37.80 L474.26 39.08 L475.53 39.50 L476.38 39.50 L477.64 39.08 L478.49 37.80 L478.91 35.67 L478.91 34.40 L478.49 32.27 L477.64 31.00 L476.38 30.58 L475.53 30.58 M482.72 32.27 L483.56 31.85 L484.83 30.58 L484.83 39.50 M490.75 33.55 L490.33 33.98 L490.75 34.40 L491.17 33.98 L490.75 33.55 M490.75 38.65 L490.33 39.08 L490.75 39.50 L491.17 39.08 L490.75 38.65 M498.36 30.58 L494.13 36.52 L500.47 36.52 M498.36 30.58 L498.36 39.50 M503.43 30.58 L508.08 30.58 L505.54 33.98 L506.81 33.98 L507.66 34.40 L508.08 34.83 L508.50 36.10 L508.50 36.95 L508.08 38.23 L507.23 39.08 L505.97 39.50 L504.70 39.50 L503.43 39.08 L503.01 38.65 L502.58 37.80 M333.50 42.47 L333.50 51.50 M333.50 42.47 L337.34 42.47 L338.62 42.90 L339.05 43.33 L339.47 44.19 L339.47 45.05 L339.05 45.91 L338.62 46.34 L337.34 46.77 L333.50 46.77 M336.49 46.77 L339.47 51.50 M342.03 45.48 L343.74 51.50 M345.44 45.48 L343.74 51.50 M345.44 45.48 L347.15 51.50 M348.86 45.48 L347.15 51.50 M351.84 42.47 L351.84 51.50 M351.84 42.47 L355.68 42.47 L356.96 42.90 L357.39 43.33 L357.82 44.19 L357.82 45.48 L357.39 46.34 L356.96 46.77 L355.68 47.20 L351.84 47.20 M360.80 45.48 L360.80 51.50 M360.80 48.06 L361.23 46.77 L362.08 45.91 L362.94 45.48 L364.22 45.48 M365.92 48.06 L371.04 48.06 L371.04 47.20 L370.61 46.34 L370.19 45.91 L369.33 45.48 L368.05 45.48 L367.20 45.91 L366.35 46.77 L365.92 48.06 L365.92 48.92 L366.35 50.21 L367.20 51.07 L368.05 51.50 L369.33 51.50 L370.19 51.07 L371.04 50.21 M374.45 42.47 L374.45 49.78 L374.88 51.07 L375.73 51.50 L376.59 51.50 M373.17 45.48 L376.16 45.48 M378.72 48.06 L383.84 48.06 L383.84 47.20 L383.41 46.34 L382.99 45.91 L382.13 45.48 L380.85 45.48 L380.00 45.91 L379.15 46.77 L378.72 48.06 L378.72 48.92 L379.15 50.21 L380.00 51.07 L380.85 51.50 L382.13 51.50 L382.99 51.07 L383.84 50.21 M391.52 46.77 L390.66 45.91 L389.81 45.48 L388.53 45.48 L387.68 45.91 L386.83 46.77 L386.40 48.06 L386.40 48.92 L386.83 50.21 L387.68 51.07 L388.53 51.50 L389.81 51.50 L390.66 51.07 L391.52 50.21 M404.32 40.75 L403.46 41.61 L402.61 42.90 L401.76 44.62 L401.33 46.77 L401.33 48.49 L401.76 50.64 L402.61 52.36 L403.46 53.65 L404.32 54.51 M409.01 42.47 L407.73 42.90 L407.30 43.76 L407.30 44.62 L407.73 45.48 L408.58 45.91 L410.29 46.34 L411.57 46.77 L412.42 47.63 L412.85 48.49 L412.85 49.78 L412.42 50.64 L411.99 51.07 L410.71 51.50 L409.01 51.50 L407.73 51.07 L407.30 50.64 L406.88 49.78 L406.88 48.49 L407.30 47.63 L408.16 46.77 L409.43 46.34 L411.14 45.91 L411.99 45.48 L412.42 44.62 L412.42 43.76 L411.99 42.90 L410.71 42.47 L409.01 42.47 M415.83 45.48 L415.83 54.51 M415.83 46.77 L416.69 45.91 L417.54 45.48 L418.82 45.48 L419.67 45.91 L420.53 46.77 L420.95 48.06 L420.95 48.92 L420.53 50.21 L419.67 51.07 L418.82 51.50 L417.54 51.50 L416.69 51.07 L415.83 50.21 M423.51 40.75 L424.37 41.61 L425.22 42.90 L426.07 44.62 L426.50 46.77 L426.50 48.49 L426.07 50.64 L425.22 52.36 L424.37 53.65 L423.51 54.51 M632.50 25.41 L632.50 31.50 M632.50 25.41 L635.29 25.41 L636.22 25.70 L636.53 25.99 L636.84 26.57 L636.84 27.44 L636.53 28.02 L636.22 28.31 L635.29 28.60 L632.50 28.60 M638.75 25.41 L638.75 31.50 M638.75 28.60 L639.68 27.73 L640.30 27.44 L641.23 27.44 L641.85 27.73 L642.16 28.60 L642.16 31.50 M647.80 27.44 L647.80 31.50 M647.80 28.31 L647.18 27.73 L646.56 27.44 L645.63 27.44 L645.01 27.73 L644.39 28.31 L644.08 29.18 L644.08 29.76 L644.39 30.63 L645.01 31.21 L645.63 31.50 L646.56 31.50 L647.18 31.21 L647.80 30.63 M653.15 28.31 L652.84 27.73 L651.91 27.44 L650.98 27.44 L650.05 27.73 L649.74 28.31 L650.05 28.89 L650.67 29.18 L652.22 29.47 L652.84 29.76 L653.15 30.34 L653.15 30.63 L652.84 31.21 L651.91 31.50 L650.98 31.50 L650.05 31.21 L649.74 30.63 M654.78 29.18 L658.50 29.18 L658.50 28.60 L658.19 28.02 L657.88 27.73 L657.26 27.44 L656.33 27.44 L655.71 27.73 L655.09 28.31 L654.78 29.18 L654.78 29.76 L655.09 30.63 L655.71 31.21 L656.33 31.50 L657.26 31.50 L657.88 31.21 L658.50 30.63 M663.54 28.31 L663.23 27.73 L662.30 27.44 L661.37 27.44 L660.44 27.73 L660.13 28.31 L660.44 28.89 L661.06 29.18 L662.61 29.47 L663.23 29.76 L663.54 30.34 L663.54 30.63 L663.23 31.21 L662.30 31.50 L661.37 31.50 L660.44 31.21 L660.13 30.63 M609.50 37.84 L609.50 42.50 M609.50 39.17 L610.44 38.17 L611.08 37.84 L612.02 37.84 L612.65 38.17 L612.97 39.17 L612.97 42.50 M612.97 39.17 L613.91 38.17 L614.54 37.84 L615.49 37.84 L616.12 38.17 L616.43 39.17 L616.43 42.50 M618.20 39.84 L621.98 39.84 L621.98 39.17 L621.67 38.50 L621.35 38.17 L620.72 37.84 L619.78 37.84 L619.15 38.17 L618.52 38.84 L618.20 39.84 L618.20 40.50 L618.52 41.50 L619.15 42.17 L619.78 42.50 L620.72 42.50 L621.35 42.17 L621.98 41.50 M627.32 37.84 L627.32 42.50 M627.32 38.84 L626.69 38.17 L626.06 37.84 L625.12 37.84 L624.49 38.17 L623.86 38.84 L623.54 39.84 L623.54 40.50 L623.86 41.50 L624.49 42.17 L625.12 42.50 L626.06 42.50 L626.69 42.17 L627.32 41.50 M629.50 37.84 L629.50 42.50 M629.50 39.17 L630.44 38.17 L631.07 37.84 L632.02 37.84 L632.65 38.17 L632.96 39.17 L632.96 42.50 M635.85 42.17 L635.54 42.50 L635.22 42.17 L635.54 41.83 L635.85 42.17 L635.85 42.83 L635.54 43.50 L635.22 43.83 M646.03 38.84 L645.72 38.17 L644.77 37.84 L643.83 37.84 L642.88 38.17 L642.57 38.84 L642.88 39.50 L643.51 39.84 L645.09 40.17 L645.72 40.50 L646.03 41.17 L646.03 41.50 L645.72 42.17 L644.77 42.50 L643.83 42.50 L642.88 42.17 L642.57 41.50 M651.38 35.51 L651.38 42.50 M651.38 38.84 L650.75 38.17 L650.12 37.84 L649.17 37.84 L648.54 38.17 L647.91 38.84 L647.60 39.84 L647.60 40.50 L647.91 41.50 L648.54 42.17 L649.17 42.50 L650.12 42.50 L650.75 42.17 L651.38 41.50 M654.27 42.17 L653.95 42.50 L653.64 42.17 L653.95 41.83 L654.27 42.17 L654.27 42.83 L653.95 43.50 L653.64 43.83 M658.07 35.51 L657.44 35.84 L656.81 36.51 L656.50 37.17 L656.18 38.17 L656.18 39.84 L656.50 40.84 L656.81 41.50 L657.44 42.17 L658.07 42.50 L659.33 42.50 L659.96 42.17 L660.59 41.50 L660.91 40.84 L661.22 39.84 L661.22 38.17 L660.91 37.17 L660.59 36.51 L659.96 35.84 L659.33 35.51 L658.07 35.51 M663.46 37.84 L663.14 38.17 L663.46 38.50 L663.77 38.17 L663.46 37.84 M663.46 41.83 L663.14 42.17 L663.46 42.50 L663.77 42.17 L663.46 41.83 M670.72 39.50 L676.39 39.50 M682.27 37.84 L681.96 38.84 L681.33 39.50 L680.38 39.84 L680.07 39.84 L679.12 39.50 L678.49 38.84 L678.18 37.84 L678.18 37.51 L678.49 36.51 L679.12 35.84 L680.07 35.51 L680.38 35.51 L681.33 35.84 L681.96 36.51 L682.27 37.84 L682.27 39.50 L681.96 41.17 L681.33 42.17 L680.38 42.50 L679.75 42.50 L678.81 42.17 L678.49 41.50 M684.75 35.51 L688.21 35.51 L686.32 38.17 L687.27 38.17 L687.90 38.50 L688.21 38.84 L688.53 39.84 L688.53 40.50 L688.21 41.50 L687.58 42.17 L686.64 42.50 L685.69 42.50 L684.75 42.17 L684.43 41.83 L684.12 41.17 M690.78 41.83 L690.46 42.17 L690.78 42.50 L691.09 42.17 L690.78 41.83 M693.66 35.51 L697.12 35.51 L695.23 38.17 L696.18 38.17 L696.81 38.50 L697.12 38.84 L697.44 39.84 L697.44 40.50 L697.12 41.50 L696.49 42.17 L695.55 42.50 L694.60 42.50 L693.66 42.17 L693.34 41.83 L693.03 41.17 M700.00 42.17 L699.69 42.50 L699.37 42.17 L699.69 41.83 L700.00 42.17 L700.00 42.83 L699.69 43.50 L699.37 43.83 M707.64 36.84 L708.27 36.51 L709.21 35.51 L709.21 42.50 M715.78 35.51 L712.63 40.17 L717.36 40.17 M715.78 35.51 L715.78 42.50 M719.29 41.83 L718.98 42.17 L719.29 42.50 L719.61 42.17 L719.29 41.83 M725.64 36.51 L725.32 35.84 L724.38 35.51 L723.75 35.51 L722.80 35.84 L722.17 36.84 L721.86 38.50 L721.86 40.17 L722.17 41.50 L722.80 42.17 L723.75 42.50 L724.06 42.50 L725.01 42.17 L725.64 41.50 L725.95 40.50 L725.95 40.17 L725.64 39.17 L725.01 38.50 L724.06 38.17 L723.75 38.17 L722.80 38.50 L722.17 39.17 L721.86 40.17 M609.50 48.84 L609.50 53.50 M609.50 50.17 L610.44 49.17 L611.08 48.84 L612.02 48.84 L612.65 49.17 L612.97 50.17 L612.97 53.50 M612.97 50.17 L613.91 49.17 L614.54 48.84 L615.49 48.84 L616.12 49.17 L616.43 50.17 L616.43 53.50 M618.20 50.84 L621.98 50.84 L621.98 50.17 L621.67 49.50 L621.35 49.17 L620.72 48.84 L619.78 48.84 L619.15 49.17 L618.52 49.84 L618.20 50.84 L618.20 51.50 L618.52 52.50 L619.15 53.17 L619.78 53.50 L620.72 53.50 L621.35 53.17 L621.98 52.50 M627.32 48.84 L627.32 53.50 M627.32 49.84 L626.69 49.17 L626.06 48.84 L625.12 48.84 L624.49 49.17 L623.86 49.84 L623.54 50.84 L623.54 51.50 L623.86 52.50 L624.49 53.17 L625.12 53.50 L626.06 53.50 L626.69 53.17 L627.32 52.50 M629.50 48.84 L629.50 53.50 M629.50 50.17 L630.44 49.17 L631.07 48.84 L632.02 48.84 L632.65 49.17 L632.96 50.17 L632.96 53.50 M635.85 53.17 L635.54 53.50 L635.22 53.17 L635.54 52.83 L635.85 53.17 L635.85 53.83 L635.54 54.50 L635.22 54.83 M646.03 49.84 L645.72 49.17 L644.77 48.84 L643.83 48.84 L642.88 49.17 L642.57 49.84 L642.88 50.50 L643.51 50.84 L645.09 51.17 L645.72 51.50 L646.03 52.17 L646.03 52.50 L645.72 53.17 L644.77 53.50 L643.83 53.50 L642.88 53.17 L642.57 52.50 M651.38 46.51 L651.38 53.50 M651.38 49.84 L650.75 49.17 L650.12 48.84 L649.17 48.84 L648.54 49.17 L647.91 49.84 L647.60 50.84 L647.60 51.50 L647.91 52.50 L648.54 53.17 L649.17 53.50 L650.12 53.50 L650.75 53.17 L651.38 52.50 M654.27 53.17 L653.95 53.50 L653.64 53.17 L653.95 52.83 L654.27 53.17 L654.27 53.83 L653.95 54.50 L653.64 54.83 M656.20 46.51 L660.61 53.50 M660.61 46.51 L656.20 53.50 M662.86 48.84 L662.55 49.17 L662.86 49.50 L663.18 49.17 L662.86 48.84 M662.86 52.83 L662.55 53.17 L662.86 53.50 L663.18 53.17 L662.86 52.83 M676.19 46.51 L675.25 46.84 L674.93 47.51 L674.93 48.17 L675.25 48.84 L675.88 49.17 L677.13 49.50 L678.08 49.84 L678.71 50.50 L679.02 51.17 L679.02 52.17 L678.71 52.83 L678.39 53.17 L677.45 53.50 L676.19 53.50 L675.25 53.17 L674.93 52.83 L674.62 52.17 L674.62 51.17 L674.93 50.50 L675.56 49.84 L676.50 49.50 L677.76 49.17 L678.39 48.84 L678.71 48.17 L678.71 47.51 L678.39 46.84 L677.45 46.51 L676.19 46.51 M681.50 47.84 L682.13 47.51 L683.08 46.51 L683.08 53.50 M687.22 52.83 L686.90 53.17 L687.22 53.50 L687.53 53.17 L687.22 52.83 M692.62 46.51 L689.47 51.17 L694.19 51.17 M692.62 46.51 L692.62 53.50 M696.44 53.17 L696.12 53.50 L695.81 53.17 L696.12 52.83 L696.44 53.17 L696.44 53.83 L696.12 54.50 L695.81 54.83 M704.07 47.84 L704.70 47.51 L705.65 46.51 L705.65 53.50 M713.48 46.51 L710.33 53.50 M709.07 46.51 L713.48 46.51 M715.73 52.83 L715.41 53.17 L715.73 53.50 L716.04 53.17 L715.73 52.83 M718.29 48.17 L718.29 47.84 L718.61 47.17 L718.92 46.84 L719.55 46.51 L720.81 46.51 L721.44 46.84 L721.76 47.17 L722.07 47.84 L722.07 48.51 L721.76 49.17 L721.13 50.17 L717.98 53.50 L722.39 53.50 M718.50 73.65 L718.50 87.54 M719.80 73.65 L719.80 87.54 M718.50 73.65 L721.54 73.65 M718.50 87.54 L721.54 87.54 M729.35 75.39 L729.35 84.50 M729.35 79.73 L728.48 78.86 L727.61 78.42 L726.31 78.42 L725.44 78.86 L724.58 79.73 L724.14 81.03 L724.14 81.90 L724.58 83.20 L725.44 84.07 L726.31 84.50 L727.61 84.50 L728.48 84.07 L729.35 83.20 M732.39 81.03 L737.60 81.03 L737.60 80.16 L737.16 79.29 L736.73 78.86 L735.86 78.42 L734.56 78.42 L733.69 78.86 L732.82 79.73 L732.39 81.03 L732.39 81.90 L732.82 83.20 L733.69 84.07 L734.56 84.50 L735.86 84.50 L736.73 84.07 L737.60 83.20 M745.41 78.42 L745.41 85.37 L744.97 86.67 L744.54 87.10 L743.67 87.54 L742.37 87.54 L741.50 87.10 M745.41 79.73 L744.54 78.86 L743.67 78.42 L742.37 78.42 L741.50 78.86 L740.63 79.73 L740.20 81.03 L740.20 81.90 L740.63 83.20 L741.50 84.07 L742.37 84.50 L743.67 84.50 L744.54 84.07 L745.41 83.20 M751.05 73.65 L751.05 87.54 M751.48 73.65 L751.48 87.54 M748.45 73.65 L751.48 73.65 M748.45 87.54 L751.48 87.54 M748.50 181.72 L749.22 181.38 L750.30 180.36 L750.30 187.50 M756.78 180.36 L755.70 180.70 L754.98 181.72 L754.62 183.42 L754.62 184.44 L754.98 186.14 L755.70 187.16 L756.78 187.50 L757.50 187.50 L758.58 187.16 L759.30 186.14 L759.66 184.44 L759.66 183.42 L759.30 181.72 L758.58 180.70 L757.50 180.36 L756.78 180.36 M763.98 180.36 L762.90 180.70 L762.18 181.72 L761.82 183.42 L761.82 184.44 L762.18 186.14 L762.90 187.16 L763.98 187.50 L764.70 187.50 L765.78 187.16 L766.50 186.14 L766.86 184.44 L766.86 183.42 L766.50 181.72 L765.78 180.70 L764.70 180.36 L763.98 180.36 M749.66 296.36 L748.58 296.70 L747.86 297.72 L747.50 299.42 L747.50 300.44 L747.86 302.14 L748.58 303.16 L749.66 303.50 L750.38 303.50 L751.46 303.16 L752.18 302.14 L752.54 300.44 L752.54 299.42 L752.18 297.72 L751.46 296.70 L750.38 296.36 L749.66 296.36 M748.50 417.44 L754.66 417.44 M758.08 414.72 L758.76 414.38 L759.79 413.36 L759.79 420.50 M765.94 413.36 L764.92 413.70 L764.23 414.72 L763.89 416.42 L763.89 417.44 L764.23 419.14 L764.92 420.16 L765.94 420.50 L766.63 420.50 L767.65 420.16 L768.34 419.14 L768.68 417.44 L768.68 416.42 L768.34 414.72 L767.65 413.70 L766.63 413.36 L765.94 413.36 M772.78 413.36 L771.76 413.70 L771.07 414.72 L770.73 416.42 L770.73 417.44 L771.07 419.14 L771.76 420.16 L772.78 420.50 L773.47 420.50 L774.49 420.16 L775.18 419.14 L775.52 417.44 L775.52 416.42 L775.18 414.72 L774.49 413.70 L773.47 413.36 L772.78 413.36 M68.70 532.36 L65.30 539.50 M63.94 532.36 L68.70 532.36 M74.82 532.36 L71.42 532.36 L71.08 535.42 L71.42 535.08 L72.44 534.74 L73.46 534.74 L74.48 535.08 L75.16 535.76 L75.50 536.78 L75.50 537.46 L75.16 538.48 L74.48 539.16 L73.46 539.50 L72.44 539.50 L71.42 539.16 L71.08 538.82 L70.74 538.14 M58.16 477.72 L58.84 477.38 L59.86 476.36 L59.86 483.50 M65.98 476.36 L64.96 476.70 L64.28 477.72 L63.94 479.42 L63.94 480.44 L64.28 482.14 L64.96 483.16 L65.98 483.50 L66.66 483.50 L67.68 483.16 L68.36 482.14 L68.70 480.44 L68.70 479.42 L68.36 477.72 L67.68 476.70 L66.66 476.36 L65.98 476.36 M72.78 476.36 L71.76 476.70 L71.08 477.72 L70.74 479.42 L70.74 480.44 L71.08 482.14 L71.76 483.16 L72.78 483.50 L73.46 483.50 L74.48 483.16 L75.16 482.14 L75.50 480.44 L75.50 479.42 L75.16 477.72 L74.48 476.70 L73.46 476.36 L72.78 476.36 M57.48 334.06 L57.48 333.72 L57.82 333.04 L58.16 332.70 L58.84 332.36 L60.20 332.36 L60.88 332.70 L61.22 333.04 L61.56 333.72 L61.56 334.40 L61.22 335.08 L60.54 336.10 L57.14 339.50 L61.90 339.50 M65.98 332.36 L64.96 332.70 L64.28 333.72 L63.94 335.42 L63.94 336.44 L64.28 338.14 L64.96 339.16 L65.98 339.50 L66.66 339.50 L67.68 339.16 L68.36 338.14 L68.70 336.44 L68.70 335.42 L68.36 333.72 L67.68 332.70 L66.66 332.36 L65.98 332.36 M72.78 332.36 L71.76 332.70 L71.08 333.72 L70.74 335.42 L70.74 336.44 L71.08 338.14 L71.76 339.16 L72.78 339.50 L73.46 339.50 L74.48 339.16 L75.16 338.14 L75.50 336.44 L75.50 335.42 L75.16 333.72 L74.48 332.70 L73.46 332.36 L72.78 332.36 M57.82 247.36 L61.56 247.36 L59.52 250.08 L60.54 250.08 L61.22 250.42 L61.56 250.76 L61.90 251.78 L61.90 252.46 L61.56 253.48 L60.88 254.16 L59.86 254.50 L58.84 254.50 L57.82 254.16 L57.48 253.82 L57.14 253.14 M65.98 247.36 L64.96 247.70 L64.28 248.72 L63.94 250.42 L63.94 251.44 L64.28 253.14 L64.96 254.16 L65.98 254.50 L66.66 254.50 L67.68 254.16 L68.36 253.14 L68.70 251.44 L68.70 250.42 L68.36 248.72 L67.68 247.70 L66.66 247.36 L65.98 247.36 M72.78 247.36 L71.76 247.70 L71.08 248.72 L70.74 250.42 L70.74 251.44 L71.08 253.14 L71.76 254.16 L72.78 254.50 L73.46 254.50 L74.48 254.16 L75.16 253.14 L75.50 251.44 L75.50 250.42 L75.16 248.72 L74.48 247.70 L73.46 247.36 L72.78 247.36 M60.54 188.36 L57.14 193.12 L62.24 193.12 M60.54 188.36 L60.54 195.50 M65.98 188.36 L64.96 188.70 L64.28 189.72 L63.94 191.42 L63.94 192.44 L64.28 194.14 L64.96 195.16 L65.98 195.50 L66.66 195.50 L67.68 195.16 L68.36 194.14 L68.70 192.44 L68.70 191.42 L68.36 189.72 L67.68 188.70 L66.66 188.36 L65.98 188.36 M72.78 188.36 L71.76 188.70 L71.08 189.72 L70.74 191.42 L70.74 192.44 L71.08 194.14 L71.76 195.16 L72.78 195.50 L73.46 195.50 L74.48 195.16 L75.16 194.14 L75.50 192.44 L75.50 191.42 L75.16 189.72 L74.48 188.70 L73.46 188.36 L72.78 188.36 M61.22 141.36 L57.82 141.36 L57.48 144.42 L57.82 144.08 L58.84 143.74 L59.86 143.74 L60.88 144.08 L61.56 144.76 L61.90 145.78 L61.90 146.46 L61.56 147.48 L60.88 148.16 L59.86 148.50 L58.84 148.50 L57.82 148.16 L57.48 147.82 L57.14 147.14 M65.98 141.36 L64.96 141.70 L64.28 142.72 L63.94 144.42 L63.94 145.44 L64.28 147.14 L64.96 148.16 L65.98 148.50 L66.66 148.50 L67.68 148.16 L68.36 147.14 L68.70 145.44 L68.70 144.42 L68.36 142.72 L67.68 141.70 L66.66 141.36 L65.98 141.36 M72.78 141.36 L71.76 141.70 L71.08 142.72 L70.74 144.42 L70.74 145.44 L71.08 147.14 L71.76 148.16 L72.78 148.50 L73.46 148.50 L74.48 148.16 L75.16 147.14 L75.50 145.44 L75.50 144.42 L75.16 142.72 L74.48 141.70 L73.46 141.36 L72.78 141.36 M61.56 104.38 L61.22 103.70 L60.20 103.36 L59.52 103.36 L58.50 103.70 L57.82 104.72 L57.48 106.42 L57.48 108.12 L57.82 109.48 L58.50 110.16 L59.52 110.50 L59.86 110.50 L60.88 110.16 L61.56 109.48 L61.90 108.46 L61.90 108.12 L61.56 107.10 L60.88 106.42 L59.86 106.08 L59.52 106.08 L58.50 106.42 L57.82 107.10 L57.48 108.12 M65.98 103.36 L64.96 103.70 L64.28 104.72 L63.94 106.42 L63.94 107.44 L64.28 109.14 L64.96 110.16 L65.98 110.50 L66.66 110.50 L67.68 110.16 L68.36 109.14 L68.70 107.44 L68.70 106.42 L68.36 104.72 L67.68 103.70 L66.66 103.36 L65.98 103.36 M72.78 103.36 L71.76 103.70 L71.08 104.72 L70.74 106.42 L70.74 107.44 L71.08 109.14 L71.76 110.16 L72.78 110.50 L73.46 110.50 L74.48 110.16 L75.16 109.14 L75.50 107.44 L75.50 106.42 L75.16 104.72 L74.48 103.70 L73.46 103.36 L72.78 103.36 M61.90 59.36 L58.50 66.50 M57.14 59.36 L61.90 59.36 M68.02 59.36 L64.62 59.36 L64.28 62.42 L64.62 62.08 L65.64 61.74 L66.66 61.74 L67.68 62.08 L68.36 62.76 L68.70 63.78 L68.70 64.46 L68.36 65.48 L67.68 66.16 L66.66 66.50 L65.64 66.50 L64.62 66.16 L64.28 65.82 L63.94 65.14 M72.78 59.36 L71.76 59.70 L71.08 60.72 L70.74 62.42 L70.74 63.44 L71.08 65.14 L71.76 66.16 L72.78 66.50 L73.46 66.50 L74.48 66.16 L75.16 65.14 L75.50 63.44 L75.50 62.42 L75.16 60.72 L74.48 59.70 L73.46 59.36 L72.78 59.36 M79.14 548.72 L79.82 548.38 L80.84 547.36 L80.84 554.50 M228.46 549.06 L228.46 548.72 L228.80 548.04 L229.14 547.70 L229.82 547.36 L231.18 547.36 L231.86 547.70 L232.20 548.04 L232.54 548.72 L232.54 549.40 L232.20 550.08 L231.52 551.10 L228.12 554.50 L232.88 554.50 M381.52 547.36 L378.12 552.12 L383.22 552.12 M381.52 547.36 L381.52 554.50 M470.28 548.38 L469.94 547.70 L468.92 547.36 L468.24 547.36 L467.22 547.70 L466.54 548.72 L466.20 550.42 L466.20 552.12 L466.54 553.48 L467.22 554.16 L468.24 554.50 L468.58 554.50 L469.60 554.16 L470.28 553.48 L470.62 552.46 L470.62 552.12 L470.28 551.10 L469.60 550.42 L468.58 550.08 L468.24 550.08 L467.22 550.42 L466.54 551.10 L466.20 552.12 M529.82 547.36 L528.80 547.70 L528.46 548.38 L528.46 549.06 L528.80 549.74 L529.48 550.08 L530.84 550.42 L531.86 550.76 L532.54 551.44 L532.88 552.12 L532.88 553.14 L532.54 553.82 L532.20 554.16 L531.18 554.50 L529.82 554.50 L528.80 554.16 L528.46 553.82 L528.12 553.14 L528.12 552.12 L528.46 551.44 L529.14 550.76 L530.16 550.42 L531.52 550.08 L532.20 549.74 L532.54 549.06 L532.54 548.38 L532.20 547.70 L531.18 547.36 L529.82 547.36 M574.03 548.72 L574.71 548.38 L575.73 547.36 L575.73 554.50 M581.85 547.36 L580.83 547.70 L580.15 548.72 L579.81 550.42 L579.81 551.44 L580.15 553.14 L580.83 554.16 L581.85 554.50 L582.53 554.50 L583.55 554.16 L584.23 553.14 L584.57 551.44 L584.57 550.42 L584.23 548.72 L583.55 547.70 L582.53 547.36 L581.85 547.36 M675.74 548.72 L676.42 548.38 L677.44 547.36 L677.44 554.50 M685.94 548.38 L685.60 547.70 L684.58 547.36 L683.90 547.36 L682.88 547.70 L682.20 548.72 L681.86 550.42 L681.86 552.12 L682.20 553.48 L682.88 554.16 L683.90 554.50 L684.24 554.50 L685.26 554.16 L685.94 553.48 L686.28 552.46 L686.28 552.12 L685.94 551.10 L685.26 550.42 L684.24 550.08 L683.90 550.08 L682.88 550.42 L682.20 551.10 L681.86 552.12 M335.50 559.32 L335.50 566.50 M335.50 559.32 L339.95 559.32 M335.50 562.74 L338.24 562.74 M341.66 561.71 L341.66 566.50 M341.66 563.76 L342.00 562.74 L342.68 562.05 L343.37 561.71 L344.39 561.71 M345.76 563.76 L349.86 563.76 L349.86 563.08 L349.52 562.40 L349.18 562.05 L348.50 561.71 L347.47 561.71 L346.79 562.05 L346.10 562.74 L345.76 563.76 L345.76 564.45 L346.10 565.47 L346.79 566.16 L347.47 566.50 L348.50 566.50 L349.18 566.16 L349.86 565.47 M356.02 561.71 L356.02 568.89 M356.02 562.74 L355.34 562.05 L354.65 561.71 L353.63 561.71 L352.94 562.05 L352.26 562.74 L351.92 563.76 L351.92 564.45 L352.26 565.47 L352.94 566.16 L353.63 566.50 L354.65 566.50 L355.34 566.16 L356.02 565.47 M358.76 561.71 L358.76 565.13 L359.10 566.16 L359.78 566.50 L360.81 566.50 L361.49 566.16 L362.52 565.13 M362.52 561.71 L362.52 566.50 M364.91 563.76 L369.02 563.76 L369.02 563.08 L368.67 562.40 L368.33 562.05 L367.65 561.71 L366.62 561.71 L365.94 562.05 L365.25 562.74 L364.91 563.76 L364.91 564.45 L365.25 565.47 L365.94 566.16 L366.62 566.50 L367.65 566.50 L368.33 566.16 L369.02 565.47 M371.41 561.71 L371.41 566.50 M371.41 563.08 L372.44 562.05 L373.12 561.71 L374.15 561.71 L374.83 562.05 L375.17 563.08 L375.17 566.50 M381.67 562.74 L380.99 562.05 L380.30 561.71 L379.28 561.71 L378.59 562.05 L377.91 562.74 L377.57 563.76 L377.57 564.45 L377.91 565.47 L378.59 566.16 L379.28 566.50 L380.30 566.50 L380.99 566.16 L381.67 565.47 M383.38 561.71 L385.43 566.50 M387.48 561.71 L385.43 566.50 L384.75 567.87 L384.06 568.55 L383.38 568.89 L383.04 568.89 M395.01 557.95 L395.01 568.89 M396.03 557.95 L396.03 568.89 M395.01 557.95 L397.40 557.95 M395.01 568.89 L397.40 568.89 M399.80 559.32 L399.80 566.50 M399.80 559.32 L402.53 566.50 M405.27 559.32 L402.53 566.50 M405.27 559.32 L405.27 566.50 M408.00 559.32 L408.00 566.50 M412.79 559.32 L412.79 566.50 M408.00 562.74 L412.79 562.74 M418.95 561.71 L415.19 566.50 M415.19 561.71 L418.95 561.71 M415.19 566.50 L418.95 566.50 M423.05 557.95 L423.05 568.89 M423.39 557.95 L423.39 568.89 M421.00 557.95 L423.39 557.95 M421.00 568.89 L423.39 568.89 M41.38 393.76 L40.70 394.44 L40.36 395.45 L40.36 396.81 L40.70 397.82 L41.38 398.50 L42.06 398.50 L42.74 398.16 L43.08 397.82 L43.42 397.15 L44.10 395.11 L44.44 394.44 L44.78 394.10 L45.46 393.76 L46.48 393.76 L47.16 394.44 L47.50 395.45 L47.50 396.81 L47.16 397.82 L46.48 398.50 M40.36 391.05 L46.14 391.05 L47.16 390.71 L47.50 390.04 L47.50 389.36 M42.74 392.07 L42.74 389.70 M42.74 383.61 L47.50 383.61 M43.76 383.61 L43.08 384.28 L42.74 384.96 L42.74 385.98 L43.08 386.65 L43.76 387.33 L44.78 387.67 L45.46 387.67 L46.48 387.33 L47.16 386.65 L47.50 385.98 L47.50 384.96 L47.16 384.28 L46.48 383.61 M40.36 380.56 L46.14 380.56 L47.16 380.22 L47.50 379.54 L47.50 378.87 M42.74 381.57 L42.74 379.21 M40.36 377.17 L40.70 376.84 L40.36 376.50 L40.02 376.84 L40.36 377.17 M42.74 376.84 L47.50 376.84 M42.74 372.77 L43.08 373.45 L43.76 374.13 L44.78 374.47 L45.46 374.47 L46.48 374.13 L47.16 373.45 L47.50 372.77 L47.50 371.76 L47.16 371.08 L46.48 370.40 L45.46 370.07 L44.78 370.07 L43.76 370.40 L43.08 371.08 L42.74 371.76 L42.74 372.77 M42.74 367.70 L47.50 367.70 M44.10 367.70 L43.08 366.68 L42.74 366.00 L42.74 364.99 L43.08 364.31 L44.10 363.97 L47.50 363.97 M42.74 357.54 L47.50 357.54 M43.76 357.54 L43.08 358.22 L42.74 358.90 L42.74 359.91 L43.08 360.59 L43.76 361.26 L44.78 361.60 L45.46 361.60 L46.48 361.26 L47.16 360.59 L47.50 359.91 L47.50 358.90 L47.16 358.22 L46.48 357.54 M42.74 354.83 L47.50 354.83 M44.78 354.83 L43.76 354.50 L43.08 353.82 L42.74 353.14 L42.74 352.13 M42.74 351.11 L47.50 349.08 M42.74 347.05 L47.50 349.08 L48.86 349.76 L49.54 350.43 L49.88 351.11 L49.88 351.45 M42.74 339.60 L49.88 339.60 M43.76 339.60 L43.08 338.92 L42.74 338.25 L42.74 337.23 L43.08 336.55 L43.76 335.88 L44.78 335.54 L45.46 335.54 L46.48 335.88 L47.16 336.55 L47.50 337.23 L47.50 338.25 L47.16 338.92 L46.48 339.60 M40.36 333.17 L47.50 333.17 M44.10 333.17 L43.08 332.15 L42.74 331.48 L42.74 330.46 L43.08 329.78 L44.10 329.45 L47.50 329.45 M42.74 323.01 L47.50 323.01 M43.76 323.01 L43.08 323.69 L42.74 324.37 L42.74 325.38 L43.08 326.06 L43.76 326.74 L44.78 327.08 L45.46 327.08 L46.48 326.74 L47.16 326.06 L47.50 325.38 L47.50 324.37 L47.16 323.69 L46.48 323.01 M43.76 316.92 L43.08 317.26 L42.74 318.28 L42.74 319.29 L43.08 320.31 L43.76 320.64 L44.44 320.31 L44.78 319.63 L45.12 317.94 L45.46 317.26 L46.14 316.92 L46.48 316.92 L47.16 317.26 L47.50 318.28 L47.50 319.29 L47.16 320.31 L46.48 320.64 M44.78 314.89 L44.78 310.83 L44.10 310.83 L43.42 311.17 L43.08 311.51 L42.74 312.18 L42.74 313.20 L43.08 313.88 L43.76 314.55 L44.78 314.89 L45.46 314.89 L46.48 314.55 L47.16 313.88 L47.50 313.20 L47.50 312.18 L47.16 311.51 L46.48 310.83 M40.36 304.06 L47.50 301.35 M40.36 298.64 L47.50 301.35 M40.36 297.29 L40.70 296.95 L40.36 296.61 L40.02 296.95 L40.36 297.29 M42.74 296.95 L47.50 296.95 M42.74 294.24 L47.50 294.24 M44.78 294.24 L43.76 293.90 L43.08 293.23 L42.74 292.55 L42.74 291.53 M40.36 289.50 L46.14 289.50 L47.16 289.16 L47.50 288.49 L47.50 287.81 M42.74 290.52 L42.74 288.15 M42.74 285.78 L46.14 285.78 L47.16 285.44 L47.50 284.76 L47.50 283.75 L47.16 283.07 L46.14 282.06 M42.74 282.06 L47.50 282.06 M42.74 275.62 L47.50 275.62 M43.76 275.62 L43.08 276.30 L42.74 276.98 L42.74 277.99 L43.08 278.67 L43.76 279.35 L44.78 279.69 L45.46 279.69 L46.48 279.35 L47.16 278.67 L47.50 277.99 L47.50 276.98 L47.16 276.30 L46.48 275.62 M40.36 272.92 L47.50 272.92 M40.36 264.79 L47.50 264.79 M40.36 260.05 L47.50 260.05 M43.76 264.79 L43.76 260.05 M44.78 257.68 L44.78 253.62 L44.10 253.62 L43.42 253.96 L43.08 254.30 L42.74 254.98 L42.74 255.99 L43.08 256.67 L43.76 257.35 L44.78 257.68 L45.46 257.68 L46.48 257.35 L47.16 256.67 L47.50 255.99 L47.50 254.98 L47.16 254.30 L46.48 253.62 M40.36 251.59 L40.70 251.25 L40.36 250.91 L40.02 251.25 L40.36 251.59 M42.74 251.25 L47.50 251.25 M42.74 244.82 L48.18 244.82 L49.20 245.16 L49.54 245.50 L49.88 246.17 L49.88 247.19 L49.54 247.87 M43.76 244.82 L43.08 245.50 L42.74 246.17 L42.74 247.19 L43.08 247.87 L43.76 248.54 L44.78 248.88 L45.46 248.88 L46.48 248.54 L47.16 247.87 L47.50 247.19 L47.50 246.17 L47.16 245.50 L46.48 244.82 M40.36 242.11 L47.50 242.11 M44.10 242.11 L43.08 241.10 L42.74 240.42 L42.74 239.40 L43.08 238.73 L44.10 238.39 L47.50 238.39 M40.36 235.34 L46.14 235.34 L47.16 235.00 L47.50 234.33 L47.50 233.65 M42.74 236.36 L42.74 233.99 M39.00 226.20 L49.88 226.20 M39.00 225.19 L49.88 225.19 M39.00 226.20 L39.00 223.83 M49.88 226.20 L49.88 223.83 M40.36 221.46 L47.50 221.46 M42.74 218.08 L46.14 221.46 M44.78 220.11 L47.50 217.74 M42.74 215.71 L47.50 215.71 M44.10 215.71 L43.08 214.69 L42.74 214.02 L42.74 213.00 L43.08 212.32 L44.10 211.99 L47.50 211.99 M44.10 211.99 L43.08 210.97 L42.74 210.29 L42.74 209.28 L43.08 208.60 L44.10 208.26 L47.50 208.26 M39.00 203.86 L49.88 203.86 M39.00 203.52 L49.88 203.52 M39.00 205.89 L39.00 203.52 M49.88 205.89 L49.88 203.52" stroke="#000" stroke-width="1" fill="none" stroke-linecap="square" shape-rendering="crispEdges"/>
<g shape-rendering="crispEdges"><rect x="719" y="87" width="26" height="1" fill="#ff0000"/><rect x="719" y="88" width="26" height="1" fill="#ff0000"/><rect x="719" y="89" width="26" height="1" fill="#ff0000"/><rect x="719" y="90" width="26" height="1" fill="#ff0000"/><rect x="719" y="91" width="26" height="1" fill="#ff0000"/><rect x="719" y="92" width="26" height="1" fill="#ff0000"/><rect x="719" y="93" width="26" height="1" fill="#ff0000"/><rect x="719" y="94" width="26" height="1" fill="#ff0000"/><rect x="719" y="95" width="26" height="1" fill="#ff0000"/><rect x="719" y="96" width="26" height="1" fill="#ff0000"/><rect x="719" y="97" width="26" height="1" fill="#ff0000"/><rect x="719" y="98" width="26" height="1" fill="#ff0000"/><rect x="719" y="99" width="26" height="1" fill="#ff0000"/><rect x="719" y="100" width="26" height="1" fill="#ff0000"/><rect x="719" y="101" width="26" height="1" fill="#ff0000"/><rect x="719" y="102" width="26" height="1" fill="#ff0000"/><rect x="719" y="103" width="26" height="1" fill="#ff0000"/><rect x="719" y="104" width="26" height="1" fill="#ff0000"/><rect x="719" y="105" width="26" height="1" fill="#ff0000"/><rect x="719" y="106" width="26" height="1" fill="#ff0000"/><rect x="719" y="107" width="26" height="1" fill="#ff0000"/><rect x="719" y="108" width="26" height="1" fill="#ff0000"/><rect x="719" y="109" width="26" height="1" fill="#ff0000"/><rect x="719" y="110" width="26" height="1" fill="#ff0000"/><rect x="719" y="111" width="26" height="1" fill="#ff0000"/><rect x="719" y="112" width="26" height="1" fill="#ff0000"/><rect x="719" y="113" width="26" height="1" fill="#ff0000"/><rect x="719" y="114" width="26" height="1" fill="#ff0000"/><rect x="719" y="115" width="26" height="1" fill="#ff0000"/><rect x="719" y="116" width="26" height="1" fill="#ff0000"/><rect x="719" y="117" width="26" height="1" fill="#ff0000"/><rect x="719" y="118" width="26" height="1" fill="#ff0000"/><rect x="719" y="119" width="26" height="1" fill="#ff0000"/><rect x="719" y="120" width="26" height="1" fill="#ff0000"/><rect x="719" y="121" width="26" height="1" fill="#ff0000"/><rect x="719" y="122" width="26" height="1" fill="#ff0000"/><rect x="719" y="123" width="26" height="1" fill="#ff0000"/><rect x="719" y="124" width="26" height="1" fill="#ff0200"/><rect x="719" y="125" width="26" height="1" fill="#ff0500"/><rect x="719" y="126" width="26" height="1" fill="#ff0800"/><rect x="719" y="127" width="26" height="1" fill="#ff0c00"/><rect x="719" y="128" width="26" height="1" fill="#ff0f00"/><rect x="719" y="129" width="26" height="1" fill="#ff1300"/><rect x="719" y="130" width="26" height="1" fill="#ff1600"/><rect x="719" y="131" width="26" height="1" fill="#ff1a00"/><rect x="719" y="132" width="26" height="1" fill="#ff1d00"/><rect x="719" y="133" width="26" height="1" fill="#ff2000"/><rect x="719" y="134" width="26" height="1" fill="#ff2400"/><rect x="719" y="135" width="26" height="1" fill="#ff2700"/><rect x="719" y="136" width="26" height="1" fill="#ff2a00"/><rect x="719" y="137" width="26" height="1" fill="#ff2e00"/><rect x="719" y="138" width="26" height="1" fill="#ff3100"/><rect x="719" y="139" width="26" height="1" fill="#ff3500"/><rect x="719" y="140" width="26" height="1" fill="#ff3800"/><rect x="719" y="141" width="26" height="1" fill="#ff3c00"/><rect x="719" y="142" width="26" height="1" fill="#ff3f00"/><rect x="719" y="143" width="26" height="1" fill="#ff4200"/><rect x="719" y="144" width="26" height="1" fill="#ff4600"/><rect x="719" y="145" width="26" height="1" fill="#ff4900"/><rect x="719" y="146" width="26" height="1" fill="#ff4c00"/><rect x="719" y="147" width="26" height="1" fill="#ff5000"/><rect x="719" y="148" width="26" height="1" fill="#ff5300"/><rect x="719" y="149" width="26" height="1" fill="#ff5700"/><rect x="719" y="150" width="26" height="1" fill="#ff5a00"/><rect x="719" y="151" width="26" height="1" fill="#ff5e00"/><rect x="719" y="152" width="26" height="1" fill="#ff6100"/><rect x="719" y="153" width="26" height="1" fill="#ff6400"/><rect x="719" y="154" width="26" height="1" fill="#ff6800"/><rect x="719" y="155" width="26" height="1" fill="#ff6b00"/><rect x="719" y="156" width="26" height="1" fill="#ff6e00"/><rect x="719" y="157" width="26" height="1" fill="#ff7200"/><rect x="719" y="158" width="26" height="1" fill="#ff7500"/><rect x="719" y="159" width="26" height="1" fill="#ff7900"/><rect x="719" y="160" width="26" height="1" fill="#ff7c00"/><rect x="719" y="161" width="26" height="1" fill="#ff8000"/><rect x="719" y="162" width="26" height="1" fill="#ff8300"/><rect x="719" y="163" width="26" height="1" fill="#ff8600"/><rect x="719" y="164" width="26" height="1" fill="#ff8a00"/><rect x="719" y="165" width="26" height="1" fill="#ff8d00"/><rect x="719" y="166" width="26" height="1" fill="#ff9000"/><rect x="719" y="167" width="26" height="1" fill="#ff9400"/><rect x="719" y="168" width="26" height="1" fill="#ff9700"/><rect x="719" y="169" width="26" height="1" fill="#ff9b00"/><rect x="719" y="170" width="26" height="1" fill="#ff9e00"/><rect x="719" y="171" width="26" height="1" fill="#ffa200"/><rect x="719" y="172" width="26" height="1" fill="#ffa500"/><rect x="719" y="173" width="26" height="1" fill="#ffa800"/><rect x="719" y="174" width="26" height="1" fill="#ffac00"/><rect x="719" y="175" width="26" height="1" fill="#ffaf00"/><rect x="719" y="176" width="26" height="1" fill="#ffb200"/><rect x="719" y="177" width="26" height="1" fill="#ffb600"/><rect x="719" y="178" width="26" height="1" fill="#ffb900"/><rect x="719" y="179" width="26" height="1" fill="#ffbd00"/><rect x="719" y="180" width="26" height="1" fill="#ffc000"/><rect x="719" y="181" width="26" height="1" fill="#ffc400"/><rect x="719" y="182" width="26" height="1" fill="#ffc700"/><rect x="719" y="183" width="26" height="1" fill="#ffca00"/><rect x="719" y="184" width="26" height="1" fill="#ffce00"/><rect x="719" y="185" width="26" height="1" fill="#ffd100"/><rect x="719" y="186" width="26" height="1" fill="#ffd400"/><rect x="719" y="187" width="26" height="1" fill="#ffd800"/><rect x="719" y="188" width="26" height="1" fill="#ffdb00"/><rect x="719" y="189" width="26" height="1" fill="#ffdf00"/><rect x="719" y="190" width="26" height="1" fill="#ffe200"/><rect x="719" y="191" width="26" height="1" fill="#ffe600"/><rect x="719" y="192" width="26" height="1" fill="#ffe900"/><rect x="719" y="193" width="26" height="1" fill="#ffec00"/><rect x="719" y="194" width="26" height="1" fill="#fff000"/><rect x="719" y="195" width="26" height="1" fill="#fff300"/><rect x="719" y="196" width="26" height="1" fill="#fff600"/><rect x="719" y="197" width="26" height="1" fill="#fffa00"/><rect x="719" y="198" width="26" height="1" fill="#fffd00"/><rect x="719" y="199" width="26" height="1" fill="#fdff00"/><rect x="719" y="200" width="26" height="1" fill="#f9ff00"/><rect x="719" y="201" width="26" height="1" fill="#f6ff00"/><rect x="719" y="202" width="26" height="1" fill="#f2ff00"/><rect x="719" y="203" width="26" height="1" fill="#eeff00"/><rect x="719" y="204" width="26" height="1" fill="#ebff00"/><rect x="719" y="205" width="26" height="1" fill="#e7ff00"/><rect x="719" y="206" width="26" height="1" fill="#e3ff00"/><rect x="719" y="207" width="26" height="1" fill="#e0ff00"/><rect x="719" y="208" width="26" height="1" fill="#dcff00"/><rect x="719" y="209" width="26" height="1" fill="#d8ff00"/><rect x="719" y="210" width="26" height="1" fill="#d4ff00"/><rect x="719" y="211" width="26" height="1" fill="#d1ff00"/><rect x="719" y="212" width="26" height="1" fill="#cdff00"/><rect x="719" y="213" width="26" height="1" fill="#c9ff00"/><rect x="719" y="214" width="26" height="1" fill="#c6ff00"/><rect x="719" y="215" width="26" height="1" fill="#c2ff00"/><rect x="719" y="216" width="26" height="1" fill="#beff00"/><rect x="719" y="217" width="26" height="1" fill="#bbff00"/><rect x="719" y="218" width="26" height="1" fill="#b7ff00"/><rect x="719" y="219" width="26" height="1" fill="#b3ff00"/><rect x="719" y="220" width="26" height="1" fill="#b0ff00"/><rect x="719" y="221" width="26" height="1" fill="#acff00"/><rect x="719" y="222" width="26" height="1" fill="#a8ff00"/><rect x="719" y="223" width="26" height="1" fill="#a4ff00"/><rect x="719" y="224" width="26" height="1" fill="#a1ff00"/><rect x="719" y="225" width="26" height="1" fill="#9dff00"/><rect x="719" y="226" width="26" height="1" fill="#99ff00"/><rect x="719" y="227" width="26" height="1" fill="#96ff00"/><rect x="719" y="228" width="26" height="1" fill="#92ff00"/><rect x="719" y="229" width="26" height="1" fill="#8eff00"/><rect x="719" y="230" width="26" height="1" fill="#8bff00"/><rect x="719" y="231" width="26" height="1" fill="#87ff00"/><rect x="719" y="232" width="26" height="1" fill="#83ff00"/><rect x="719" y="233" width="26" height="1" fill="#80ff00"/><rect x="719" y="234" width="26" height="1" fill="#7cff00"/><rect x="719" y="235" width="26" height="1" fill="#78ff00"/><rect x="719" y="236" width="26" height="1" fill="#74ff00"/><rect x="719" y="237" width="26" height="1" fill="#71ff00"/><rect x="719" y="238" width="26" height="1" fill="#6dff00"/><rect x="719" y="239" width="26" height="1" fill="#69ff00"/><rect x="719" y="240" width="26" height="1" fill="#66ff00"/><rect x="719" y="241" width="26" height="1" fill="#62ff00"/><rect x="719" y="242" width="26" height="1" fill="#5eff00"/><rect x="719" y="243" width="26" height="1" fill="#5bff00"/><rect x="719" y="244" width="26" height="1" fill="#57ff00"/><rect x="719" y="245" width="26" height="1" fill="#53ff00"/><rect x="719" y="246" width="26" height="1" fill="#4fff00"/><rect x="719" y="247" width="26" height="1" fill="#4cff00"/><rect x="719" y="248" width="26" height="1" fill="#48ff00"/><rect x="719" y="249" width="26" height="1" fill="#44ff00"/><rect x="719" y="250" width="26" height="1" fill="#41ff00"/><rect x="719" y="251" width="26" height="1" fill="#3dff00"/><rect x="719" y="252" width="26" height="1" fill="#39ff00"/><rect x="719" y="253" width="26" height="1" fill="#36ff00"/><rect x="719" y="254" width="26" height="1" fill="#32ff00"/><rect x="719" y="255" width="26" height="1" fill="#2eff00"/><rect x="719" y="256" width="26" height="1" fill="#2aff00"/><rect x="719" y="257" width="26" height="1" fill="#27ff00"/><rect x="719" y="258" width="26" height="1" fill="#23ff00"/><rect x="719" y="259" width="26" height="1" fill="#1fff00"/><rect x="719" y="260" width="26" height="1" fill="#1cff00"/><rect x="719" y="261" width="26" height="1" fill="#18ff00"/><rect x="719" y="262" width="26" height="1" fill="#14ff00"/><rect x="719" y="263" width="26" height="1" fill="#11ff00"/><rect x="719" y="264" width="26" height="1" fill="#0dff00"/><rect x="719" y="265" width="26" height="1" fill="#09ff00"/><rect x="719" y="266" width="26" height="1" fill="#06ff00"/><rect x="719" y="267" width="26" height="1" fill="#02ff00"/><rect x="719" y="268" width="26" height="1" fill="#00ff02"/><rect x="719" y="269" width="26" height="1" fill="#00ff05"/><rect x="719" y="270" width="26" height="1" fill="#00ff09"/><rect x="719" y="271" width="26" height="1" fill="#00ff0c"/><rect x="719" y="272" width="26" height="1" fill="#00ff10"/><rect x="719" y="273" width="26" height="1" fill="#00ff13"/><rect x="719" y="274" width="26" height="1" fill="#00ff17"/><rect x="719" y="275" width="26" height="1" fill="#00ff1a"/><rect x="719" y="276" width="26" height="1" fill="#00ff1e"/><rect x="719" y="277" width="26" height="1" fill="#00ff21"/><rect x="719" y="278" width="26" height="1" fill="#00ff25"/><rect x="719" y="279" width="26" height="1" fill="#00ff28"/><rect x="719" y="280" width="26" height="1" fill="#00ff2c"/><rect x="719" y="281" width="26" height="1" fill="#00ff2f"/><rect x="719" y="282" width="26" height="1" fill="#00ff33"/><rect x="719" y="283" width="26" height="1" fill="#00ff36"/><rect x="719" y="284" width="26" height="1" fill="#00ff3a"/><rect x="719" y="285" width="26" height="1" fill="#00ff3d"/><rect x="719" y="286" width="26" height="1" fill="#00ff41"/><rect x="719" y="287" width="26" height="1" fill="#00ff44"/><rect x="719" y="288" width="26" height="1" fill="#00ff48"/><rect x="719" y="289" width="26" height="1" fill="#00ff4b"/><rect x="719" y="290" width="26" height="1" fill="#00ff4f"/><rect x="719" y="291" width="26" height="1" fill="#00ff52"/><rect x="719" y="292" width="26" height="1" fill="#00ff56"/><rect x="719" y="293" width="26" height="1" fill="#00ff59"/><rect x="719" y="294" width="26" height="1" fill="#00ff5d"/><rect x="719" y="295" width="26" height="1" fill="#00ff60"/><rect x="719" y="296" width="26" height="1" fill="#00ff64"/><rect x="719" y="297" width="26" height="1" fill="#00ff67"/><rect x="719" y="298" width="26" height="1" fill="#00ff6b"/><rect x="719" y="299" width="26" height="1" fill="#00ff6e"/><rect x="719" y="300" width="26" height="1" fill="#00ff72"/><rect x="719" y="301" width="26" height="1" fill="#00ff75"/><rect x="719" y="302" width="26" height="1" fill="#00ff79"/><rect x="719" y="303" width="26" height="1" fill="#00ff7c"/><rect x="719" y="304" width="26" height="1" fill="#00ff80"/><rect x="719" y="305" width="26" height="1" fill="#00ff83"/><rect x="719" y="306" width="26" height="1" fill="#00ff86"/><rect x="719" y="307" width="26" height="1" fill="#00ff8a"/><rect x="719" y="308" width="26" height="1" fill="#00ff8d"/><rect x="719" y="309" width="26" height="1" fill="#00ff91"/><rect x="719" y="310" width="26" height="1" fill="#00ff94"/><rect x="719" y="311" width="26" height="1" fill="#00ff98"/><rect x="719" y="312" width="26" height="1" fill="#00ff9b"/><rect x="719" y="313" width="26" height="1" fill="#00ff9f"/><rect x="719" y="314" width="26" height="1" fill="#00ffa2"/><rect x="719" y="315" width="26" height="1" fill="#00ffa6"/><rect x="719" y="316" width="26" height="1" fill="#00ffa9"/><rect x="719" y="317" width="26" height="1" fill="#00ffad"/><rect x="719" y="318" width="26" height="1" fill="#00ffb0"/><rect x="719" y="319" width="26" height="1" fill="#00ffb4"/><rect x="719" y="320" width="26" height="1" fill="#00ffb7"/><rect x="719" y="321" width="26" height="1" fill="#00ffbb"/><rect x="719" y="322" width="26" height="1" fill="#00ffbe"/><rect x="719" y="323" width="26" height="1" fill="#00ffc2"/><rect x="719" y="324" width="26" height="1" fill="#00ffc5"/><rect x="719" y="325" width="26" height="1" fill="#00ffc9"/><rect x="719" y="326" width="26" height="1" fill="#00ffcc"/><rect x="719" y="327" width="26" height="1" fill="#00ffd0"/><rect x="719" y="328" width="26" height="1" fill="#00ffd3"/><rect x="719" y="329" width="26" height="1" fill="#00ffd7"/><rect x="719" y="330" width="26" height="1" fill="#00ffda"/><rect x="719" y="331" width="26" height="1" fill="#00ffde"/><rect x="719" y="332" width="26" height="1" fill="#00ffe1"/><rect x="719" y="333" width="26" height="1" fill="#00ffe5"/><rect x="719" y="334" width="26" height="1" fill="#00ffe8"/><rect x="719" y="335" width="26" height="1" fill="#00ffec"/><rect x="719" y="336" width="26" height="1" fill="#00ffef"/><rect x="719" y="337" width="26" height="1" fill="#00fff3"/><rect x="719" y="338" width="26" height="1" fill="#00fff6"/><rect x="719" y="339" width="26" height="1" fill="#00fffa"/><rect x="719" y="340" width="26" height="1" fill="#00fffd"/><rect x="719" y="341" width="26" height="1" fill="#00fdff"/><rect x="719" y="342" width="26" height="1" fill="#00faff"/><rect x="719" y="343" width="26" height="1" fill="#00f6ff"/><rect x="719" y="344" width="26" height="1" fill="#00f3ff"/><rect x="719" y="345" width="26" height="1" fill="#00efff"/><rect x="719" y="346" width="26" height="1" fill="#00ecff"/><rect x="719" y="347" width="26" height="1" fill="#00e8ff"/><rect x="719" y="348" width="26" height="1" fill="#00e4ff"/><rect x="719" y="349" width="26" height="1" fill="#00e1ff"/><rect x="719" y="350" width="26" height="1" fill="#00ddff"/><rect x="719" y="351" width="26" height="1" fill="#00daff"/><rect x="719" y="352" width="26" height="1" fill="#00d6ff"/><rect x="719" y="353" width="26" height="1" fill="#00d3ff"/><rect x="719" y="354" width="26" height="1" fill="#00cfff"/><rect x="719" y="355" width="26" height="1" fill="#00ccff"/><rect x="719" y="356" width="26" height="1" fill="#00c8ff"/><rect x="719" y="357" width="26" height="1" fill="#00c5ff"/><rect x="719" y="358" width="26" height="1" fill="#00c1ff"/><rect x="719" y="359" width="26" height="1" fill="#00bdff"/><rect x="719" y="360" width="26" height="1" fill="#00baff"/><rect x="719" y="361" width="26" height="1" fill="#00b6ff"/><rect x="719" y="362" width="26" height="1" fill="#00b3ff"/><rect x="719" y="363" width="26" height="1" fill="#00afff"/><rect x="719" y="364" width="26" height="1" fill="#00acff"/><rect x="719" y="365" width="26" height="1" fill="#00a8ff"/><rect x="719" y="366" width="26" height="1" fill="#00a5ff"/><rect x="719" y="367" width="26" height="1" fill="#00a1ff"/><rect x="719" y="368" width="26" height="1" fill="#009eff"/><rect x="719" y="369" width="26" height="1" fill="#009aff"/><rect x="719" y="370" width="26" height="1" fill="#0097ff"/><rect x="719" y="371" width="26" height="1" fill="#0093ff"/><rect x="719" y="372" width="26" height="1" fill="#008fff"/><rect x="719" y="373" width="26" height="1" fill="#008cff"/><rect x="719" y="374" width="26" height="1" fill="#0088ff"/><rect x="719" y="375" width="26" height="1" fill="#0085ff"/><rect x="719" y="376" width="26" height="1" fill="#0081ff"/><rect x="719" y="377" width="26" height="1" fill="#007eff"/><rect x="719" y="378" width="26" height="1" fill="#007aff"/><rect x="719" y="379" width="26" height="1" fill="#0077ff"/><rect x="719" y="380" width="26" height="1" fill="#0073ff"/><rect x="719" y="381" width="26" height="1" fill="#0070ff"/><rect x="719" y="382" width="26" height="1" fill="#006cff"/><rect x="719" y="383" width="26" height="1" fill="#0068ff"/><rect x="719" y="384" width="26" height="1" fill="#0065ff"/><rect x="719" y="385" width="26" height="1" fill="#0061ff"/><rect x="719" y="386" width="26" height="1" fill="#005eff"/><rect x="719" y="387" width="26" height="1" fill="#005aff"/><rect x="719" y="388" width="26" height="1" fill="#0057ff"/><rect x="719" y="389" width="26" height="1" fill="#0053ff"/><rect x="719" y="390" width="26" height="1" fill="#0050ff"/><rect x="719" y="391" width="26" height="1" fill="#004cff"/><rect x="719" y="392" width="26" height="1" fill="#0049ff"/><rect x="719" y="393" width="26" height="1" fill="#0045ff"/><rect x="719" y="394" width="26" height="1" fill="#0042ff"/><rect x="719" y="395" width="26" height="1" fill="#003eff"/><rect x="719" y="396" width="26" height="1" fill="#003aff"/><rect x="719" y="397" width="26" height="1" fill="#0037ff"/><rect x="719" y="398" width="26" height="1" fill="#0033ff"/><rect x="719" y="399" width="26" height="1" fill="#0030ff"/><rect x="719" y="400" width="26" height="1" fill="#002cff"/><rect x="719" y="401" width="26" height="1" fill="#0029ff"/><rect x="719" y="402" width="26" height="1" fill="#0025ff"/><rect x="719" y="403" width="26" height="1" fill="#0022ff"/><rect x="719" y="404" width="26" height="1" fill="#001eff"/><rect x="719" y="405" width="26" height="1" fill="#001bff"/><rect x="719" y="406" width="26" height="1" fill="#0017ff"/><rect x="719" y="407" width="26" height="1" fill="#0013ff"/><rect x="719" y="408" width="26" height="1" fill="#0010ff"/><rect x="719" y="409" width="26" height="1" fill="#000cff"/><rect x="719" y="410" width="26" height="1" fill="#0009ff"/><rect x="719" y="411" width="26" height="1" fill="#0005ff"/><rect x="719" y="412" width="26" height="1" fill="#0002ff"/><rect x="719" y="413" width="26" height="1" fill="#0100fe"/><rect x="719" y="414" width="26" height="1" fill="#0400fb"/><rect x="719" y="415" width="26" height="1" fill="#0600f9"/><rect x="719" y="416" width="26" height="1" fill="#0800f6"/><rect x="719" y="417" width="26" height="1" fill="#0b00f3"/><rect x="719" y="418" width="26" height="1" fill="#0d00f1"/><rect x="719" y="419" width="26" height="1" fill="#1000ee"/><rect x="719" y="420" width="26" height="1" fill="#1200ec"/><rect x="719" y="421" width="26" height="1" fill="#1500e9"/><rect x="719" y="422" width="26" height="1" fill="#1700e7"/><rect x="719" y="423" width="26" height="1" fill="#1900e4"/><rect x="719" y="424" width="26" height="1" fill="#1c00e1"/><rect x="719" y="425" width="26" height="1" fill="#1e00df"/><rect x="719" y="426" width="26" height="1" fill="#2100dc"/><rect x="719" y="427" width="26" height="1" fill="#2300da"/><rect x="719" y="428" width="26" height="1" fill="#2600d7"/><rect x="719" y="429" width="26" height="1" fill="#2800d4"/><rect x="719" y="430" width="26" height="1" fill="#2a00d2"/><rect x="719" y="431" width="26" height="1" fill="#2d00cf"/><rect x="719" y="432" width="26" height="1" fill="#2f00cd"/><rect x="719" y="433" width="26" height="1" fill="#3200ca"/><rect x="719" y="434" width="26" height="1" fill="#3400c8"/><rect x="719" y="435" width="26" height="1" fill="#3700c5"/><rect x="719" y="436" width="26" height="1" fill="#3900c2"/><rect x="719" y="437" width="26" height="1" fill="#3b00c0"/><rect x="719" y="438" width="26" height="1" fill="#3e00bd"/><rect x="719" y="439" width="26" height="1" fill="#4000bb"/><rect x="719" y="440" width="26" height="1" fill="#4300b8"/><rect x="719" y="441" width="26" height="1" fill="#4500b6"/><rect x="719" y="442" width="26" height="1" fill="#4800b3"/><rect x="719" y="443" width="26" height="1" fill="#4a00b0"/><rect x="719" y="444" width="26" height="1" fill="#4c00ae"/><rect x="719" y="445" width="26" height="1" fill="#4f00ab"/><rect x="719" y="446" width="26" height="1" fill="#5000a9"/><rect x="719" y="447" width="26" height="1" fill="#5100a6"/><rect x="719" y="448" width="26" height="1" fill="#5100a3"/><rect x="719" y="449" width="26" height="1" fill="#5200a1"/><rect x="719" y="450" width="26" height="1" fill="#52009e"/><rect x="719" y="451" width="26" height="1" fill="#53009c"/><rect x="719" y="452" width="26" height="1" fill="#530099"/><rect x="719" y="453" width="26" height="1" fill="#540096"/><rect x="719" y="454" width="26" height="1" fill="#540094"/><rect x="719" y="455" width="26" height="1" fill="#550091"/><rect x="719" y="456" width="26" height="1" fill="#56008e"/><rect x="719" y="457" width="26" height="1" fill="#56008c"/><rect x="719" y="458" width="26" height="1" fill="#570089"/><rect x="719" y="459" width="26" height="1" fill="#570086"/><rect x="719" y="460" width="26" height="1" fill="#580084"/><rect x="719" y="461" width="26" height="1" fill="#580081"/><rect x="719" y="462" width="26" height="1" fill="#59007f"/><rect x="719" y="463" width="26" height="1" fill="#59007c"/><rect x="719" y="464" width="26" height="1" fill="#5a0079"/><rect x="719" y="465" width="26" height="1" fill="#590077"/><rect x="719" y="466" width="26" height="1" fill="#580074"/><rect x="719" y="467" width="26" height="1" fill="#560071"/><rect x="719" y="468" width="26" height="1" fill="#54006e"/><rect x="719" y="469" width="26" height="1" fill="#52006b"/><rect x="719" y="470" width="26" height="1" fill="#510068"/><rect x="719" y="471" width="26" height="1" fill="#4f0065"/><rect x="719" y="472" width="26" height="1" fill="#4e0062"/><rect x="719" y="473" width="26" height="1" fill="#4c005f"/><rect x="719" y="474" width="26" height="1" fill="#4a005c"/><rect x="719" y="475" width="26" height="1" fill="#480059"/><rect x="719" y="476" width="26" height="1" fill="#470056"/><rect x="719" y="477" width="26" height="1" fill="#450054"/><rect x="719" y="478" width="26" height="1" fill="#440051"/><rect x="719" y="479" width="26" height="1" fill="#42004e"/><rect x="719" y="480" width="26" height="1" fill="#40004b"/><rect x="719" y="481" width="26" height="1" fill="#3e0048"/><rect x="719" y="482" width="26" height="1" fill="#3d0045"/><rect x="719" y="483" width="26" height="1" fill="#3b0042"/><rect x="719" y="484" width="26" height="1" fill="#3a003f"/><rect x="719" y="485" width="26" height="1" fill="#38003c"/><rect x="719" y="486" width="26" height="1" fill="#360039"/><rect x="719" y="487" width="26" height="1" fill="#340036"/><rect x="719" y="488" width="26" height="1" fill="#330033"/><rect x="719" y="489" width="26" height="1" fill="#310031"/><rect x="719" y="490" width="26" height="1" fill="#2f002f"/><rect x="719" y="491" width="26" height="1" fill="#2c002c"/><rect x="719" y="492" width="26" height="1" fill="#2a002a"/><rect x="719" y="493" width="26" height="1" fill="#280028"/><rect x="719" y="494" width="26" height="1" fill="#260026"/><rect x="719" y="495" width="26" height="1" fill="#230023"/><rect x="719" y="496" width="26" height="1" fill="#210021"/><rect x="719" y="497" width="26" height="1" fill="#1f001f"/><rect x="719" y="498" width="26" height="1" fill="#1c001c"/><rect x="719" y="499" width="26" height="1" fill="#1a001a"/><rect x="719" y="500" width="26" height="1" fill="#180018"/><rect x="719" y="501" width="26" height="1" fill="#160016"/><rect x="719" y="502" width="26" height="1" fill="#130013"/><rect x="719" y="503" width="26" height="1" fill="#110011"/><rect x="719" y="504" width="26" height="1" fill="#0f000f"/><rect x="719" y="505" width="26" height="1" fill="#0c000c"/><rect x="719" y="506" width="26" height="1" fill="#0a000a"/><rect x="719" y="507" width="26" height="1" fill="#080008"/><rect x="719" y="508" width="26" height="1" fill="#060006"/><rect x="719" y="509" width="26" height="1" fill="#030003"/><rect x="719" y="510" width="26" height="1" fill="#010001"/></g>
</svg></body></html>
